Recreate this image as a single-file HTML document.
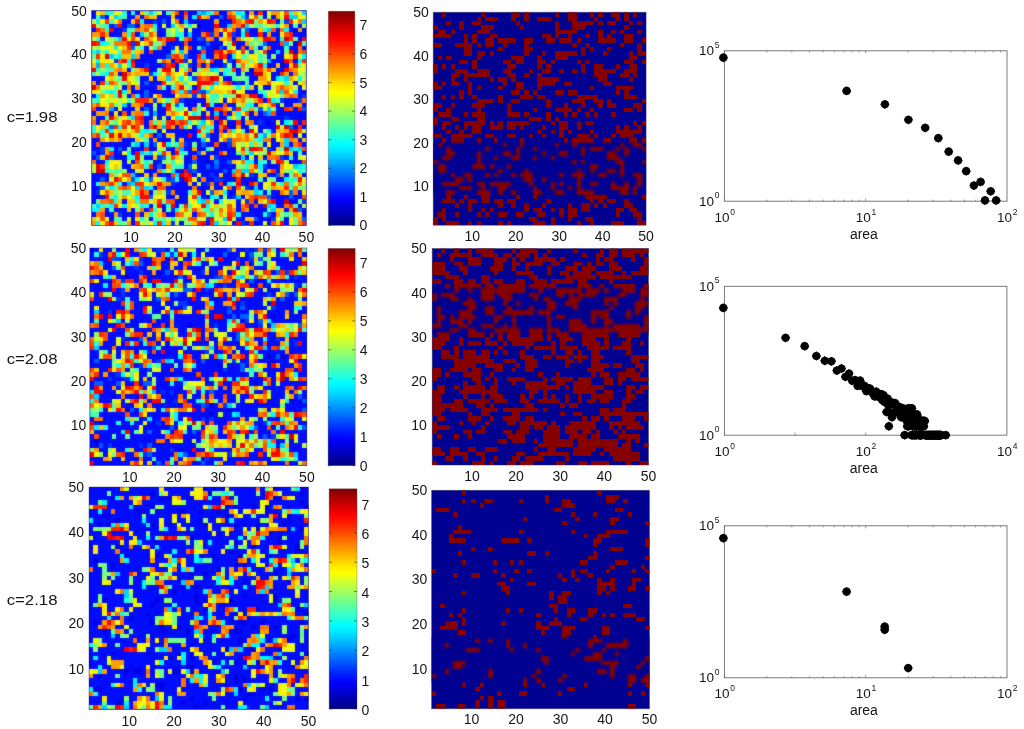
<!DOCTYPE html>
<html><head><meta charset="utf-8"><title>figure</title>
<style>html,body{margin:0;padding:0;background:#fff}svg{display:block}.hb{filter:blur(0.9px)}.bb{filter:blur(1.2px)}</style></head>
<body>
<svg width="1024" height="729" viewBox="0 0 1024 729" font-family="Liberation Sans, sans-serif" fill="#161616">
<defs><linearGradient id="jet" x1="0" y1="1" x2="0" y2="0">
<stop offset="0" stop-color="#000080"/>
<stop offset="0.03" stop-color="#00009f"/>
<stop offset="0.06" stop-color="#0000bf"/>
<stop offset="0.09" stop-color="#0000df"/>
<stop offset="0.12" stop-color="#0000ff"/>
<stop offset="0.16" stop-color="#0020ff"/>
<stop offset="0.19" stop-color="#0040ff"/>
<stop offset="0.22" stop-color="#0060ff"/>
<stop offset="0.25" stop-color="#0080ff"/>
<stop offset="0.28" stop-color="#009fff"/>
<stop offset="0.31" stop-color="#00bfff"/>
<stop offset="0.34" stop-color="#00dfff"/>
<stop offset="0.38" stop-color="#00ffff"/>
<stop offset="0.41" stop-color="#20ffdf"/>
<stop offset="0.44" stop-color="#40ffbf"/>
<stop offset="0.47" stop-color="#60ff9f"/>
<stop offset="0.5" stop-color="#80ff80"/>
<stop offset="0.53" stop-color="#9fff60"/>
<stop offset="0.56" stop-color="#bfff40"/>
<stop offset="0.59" stop-color="#dfff20"/>
<stop offset="0.62" stop-color="#ffff00"/>
<stop offset="0.66" stop-color="#ffdf00"/>
<stop offset="0.69" stop-color="#ffbf00"/>
<stop offset="0.72" stop-color="#ff9f00"/>
<stop offset="0.75" stop-color="#ff8000"/>
<stop offset="0.78" stop-color="#ff6000"/>
<stop offset="0.81" stop-color="#ff4000"/>
<stop offset="0.84" stop-color="#ff2000"/>
<stop offset="0.88" stop-color="#ff0000"/>
<stop offset="0.91" stop-color="#df0000"/>
<stop offset="0.94" stop-color="#bf0000"/>
<stop offset="0.97" stop-color="#9f0000"/>
<stop offset="1" stop-color="#800000"/>
</linearGradient></defs>
<clipPath id="cp1"><rect x="91.6" y="10.5" width="214.8" height="215.1"/></clipPath>
<g clip-path="url(#cp1)">
<g id="hm1" shape-rendering="crispEdges" transform="translate(91.6 10.5) scale(4.38367 4.38980)">
<rect x="-2" y="-2" width="53" height="53" fill="#000cff"/>
<path fill="#0000e4" d="M24 3h1v1h-1zM46 4h1v1h-1zM46 7h1v1h-1zM28 8h1v1h-1zM40 12h1v1h-1zM43 12h1v1h-1zM23 13h1v1h-1zM36 13h1v1h-1zM6 23h1v1h-1zM40 25h1v1h-1zM32 26h1v1h-1zM30 30h1v1h-1zM26 34h1v1h-1zM35 39h1v1h-1zM1 42h1v1h-1zM40 47h1v1h-1zM37 48h1v1h-1z"/>
<path fill="#0034ff" d="M35 1h1v1h-1zM14 2h1v1h-1zM44 2h1v1h-1zM7 4h1v1h-1zM27 5h1v1h-1zM32 5h1v1h-1zM25 6h1v1h-1zM9 7h1v1h-1zM18 8h1v1h-1zM36 9h1v1h-1zM5 11h1v1h-1zM21 11h1v1h-1zM31 11h1v1h-1zM12 12h1v1h-1zM16 12h1v1h-1zM22 12h1v1h-1zM30 12h1v1h-1zM13 14h1v1h-1zM23 15h1v1h-1zM33 16h1v1h-1zM25 18h1v1h-1zM23 19h1v1h-1zM48 19h1v1h-1zM14 20h1v1h-1zM20 20h1v1h-1zM43 20h1v1h-1zM47 20h1v1h-1zM32 22h1v1h-1zM44 24h1v1h-1zM38 25h1v1h-1zM21 30h1v1h-1zM31 30h1v1h-1zM2 31h1v1h-1zM40 31h1v1h-1zM2 32h1v1h-1zM15 33h1v1h-1zM28 33h1v1h-1zM43 33h1v1h-1zM39 35h1v1h-1zM22 36h1v1h-1zM27 37h1v1h-1zM36 37h1v1h-1zM17 38h1v1h-1zM28 38h2v1h-2zM18 39h1v1h-1zM26 39h1v1h-1zM35 40h1v1h-1zM1 41h1v1h-1zM17 41h1v1h-1zM32 42h1v1h-1zM35 43h1v1h-1zM48 43h1v1h-1zM18 45h1v1h-1zM6 46h1v1h-1zM26 47h1v1h-1zM41 47h1v1h-1zM18 48h1v1h-1zM34 48h1v1h-1z"/>
<path fill="#005cff" d="M2 1h1v1h-1zM29 1h1v1h-1zM16 2h1v1h-1zM5 3h1v1h-1zM8 3h2v1h-2zM35 4h1v1h-1zM24 6h1v1h-1zM26 7h1v1h-1zM39 7h1v1h-1zM9 8h1v1h-1zM25 8h1v1h-1zM29 8h1v1h-1zM17 10h1v1h-1zM21 10h1v1h-1zM12 16h1v1h-1zM12 18h1v1h-1zM22 18h1v1h-1zM24 18h1v1h-1zM12 19h1v1h-1zM19 21h1v1h-1zM12 22h1v1h-1zM38 22h1v1h-1zM48 22h1v1h-1zM39 23h1v1h-1zM4 26h1v1h-1zM45 26h1v1h-1zM15 28h1v1h-1zM26 28h1v1h-1zM31 29h1v1h-1zM14 30h1v1h-1zM25 30h1v1h-1zM6 31h1v1h-1zM0 32h1v1h-1zM24 32h1v1h-1zM1 33h1v1h-1zM4 33h1v1h-1zM16 33h1v1h-1zM23 34h1v1h-1zM31 34h1v1h-1zM15 35h1v1h-1zM22 35h1v1h-1zM26 35h1v1h-1zM28 35h1v1h-1zM23 36h1v1h-1zM30 36h1v1h-1zM42 37h1v1h-1zM2 38h1v1h-1zM9 38h1v1h-1zM13 38h1v1h-1zM18 38h1v1h-1zM2 40h1v1h-1zM27 41h1v1h-1zM45 41h1v1h-1zM13 42h1v1h-1zM40 42h1v1h-1zM45 42h1v1h-1zM47 45h1v1h-1zM40 46h1v1h-1zM37 47h1v1h-1zM48 47h1v1h-1z"/>
<path fill="#0083ff" d="M28 34h1v1h-1z"/>
<path fill="#00abff" d="M25 0h1v1h-1zM44 7h1v1h-1zM40 11h1v1h-1zM1 12h1v1h-1zM4 22h1v1h-1zM14 23h1v1h-1zM40 23h1v1h-1zM16 26h1v1h-1zM39 28h1v1h-1zM20 31h1v1h-1zM8 39h1v1h-1z"/>
<path fill="#00d3ff" d="M13 0h1v1h-1zM24 0h1v1h-1zM48 0h1v1h-1zM5 1h1v1h-1zM34 1h1v1h-1zM45 1h2v1h-2zM21 2h1v1h-1zM48 2h1v1h-1zM18 3h1v1h-1zM31 3h1v1h-1zM35 3h1v1h-1zM40 4h1v1h-1zM11 5h1v1h-1zM22 5h1v1h-1zM6 6h1v1h-1zM1 9h1v1h-1zM20 9h1v1h-1zM42 9h1v1h-1zM4 10h1v1h-1zM9 10h1v1h-1zM25 10h1v1h-1zM6 12h1v1h-1zM27 13h1v1h-1zM17 15h1v1h-1zM44 15h1v1h-1zM28 16h1v1h-1zM26 18h1v1h-1zM43 18h1v1h-1zM7 21h1v1h-1zM16 21h1v1h-1zM40 22h1v1h-1zM28 23h1v1h-1zM9 24h1v1h-1zM25 25h1v1h-1zM24 26h1v1h-1zM25 29h1v1h-1zM44 29h1v1h-1zM10 30h1v1h-1zM12 30h1v1h-1zM44 30h1v1h-1zM45 31h1v1h-1zM47 31h1v1h-1zM11 32h1v1h-1zM13 32h1v1h-1zM36 32h1v1h-1zM34 33h1v1h-1zM46 35h1v1h-1zM32 36h1v1h-1zM34 36h2v1h-2zM9 37h1v1h-1zM19 37h1v1h-1zM9 39h1v1h-1zM10 40h1v1h-1zM12 40h1v1h-1zM37 40h1v1h-1zM37 41h1v1h-1zM33 42h1v1h-1zM25 43h1v1h-1zM1 44h1v1h-1zM40 44h1v1h-1zM41 45h1v1h-1zM30 47h1v1h-1zM28 48h1v1h-1z"/>
<path fill="#00faff" d="M26 0h1v1h-1zM33 0h1v1h-1zM23 1h1v1h-1zM1 2h1v1h-1zM11 2h1v1h-1zM14 3h1v1h-1zM22 3h1v1h-1zM44 4h1v1h-1zM34 5h1v1h-1zM2 7h1v1h-1zM5 8h1v1h-1zM6 10h1v1h-1zM32 10h1v1h-1zM48 10h1v1h-1zM1 11h1v1h-1zM8 11h1v1h-1zM47 11h1v1h-1zM3 12h1v1h-1zM39 12h1v1h-1zM28 13h1v1h-1zM3 14h1v1h-1zM14 14h1v1h-1zM30 14h1v1h-1zM20 15h1v1h-1zM42 15h1v1h-1zM47 15h1v1h-1zM27 17h1v1h-1zM33 17h1v1h-1zM35 17h1v1h-1zM4 18h1v1h-1zM7 18h1v1h-1zM20 18h1v1h-1zM46 18h1v1h-1zM1 19h1v1h-1zM10 19h1v1h-1zM39 19h1v1h-1zM41 20h1v1h-1zM36 21h1v1h-1zM23 23h1v1h-1zM33 23h1v1h-1zM19 24h2v1h-2zM44 25h1v1h-1zM6 26h1v1h-1zM4 27h1v1h-1zM12 27h1v1h-1zM40 27h1v1h-1zM11 28h1v1h-1zM38 29h1v1h-1zM17 30h1v1h-1zM4 31h1v1h-1zM46 31h1v1h-1zM8 32h1v1h-1zM3 34h1v1h-1zM36 34h1v1h-1zM38 35h1v1h-1zM47 35h1v1h-1zM18 36h1v1h-1zM10 38h1v1h-1zM44 38h1v1h-1zM31 39h1v1h-1zM4 40h1v1h-1zM13 40h1v1h-1zM30 41h1v1h-1zM38 41h1v1h-1zM5 42h1v1h-1zM10 42h1v1h-1zM24 42h1v1h-1zM27 42h1v1h-1zM24 43h1v1h-1zM4 44h1v1h-1zM7 44h1v1h-1zM11 44h1v1h-1zM26 44h1v1h-1zM41 44h1v1h-1zM0 45h2v1h-2zM19 45h1v1h-1zM13 46h1v1h-1zM27 46h1v1h-1zM33 46h1v1h-1zM1 48h1v1h-1zM14 48h1v1h-1zM16 48h1v1h-1z"/>
<path fill="#23ffdc" d="M3 0h2v1h-2zM7 0h1v1h-1zM9 0h1v1h-1zM34 0h1v1h-1zM45 0h1v1h-1zM6 1h1v1h-1zM3 3h1v1h-1zM42 3h1v1h-1zM3 4h1v1h-1zM39 4h1v1h-1zM8 5h1v1h-1zM19 5h2v1h-2zM37 6h1v1h-1zM43 6h1v1h-1zM3 7h1v1h-1zM11 8h1v1h-1zM14 8h1v1h-1zM0 9h1v1h-1zM3 9h1v1h-1zM18 9h1v1h-1zM8 12h1v1h-1zM1 13h1v1h-1zM30 13h2v1h-2zM2 14h1v1h-1zM22 15h1v1h-1zM43 15h1v1h-1zM3 16h1v1h-1zM21 16h1v1h-1zM44 16h1v1h-1zM18 17h1v1h-1zM3 18h1v1h-1zM38 18h1v1h-1zM5 19h1v1h-1zM27 19h2v1h-2zM1 20h1v1h-1zM20 21h1v1h-1zM27 21h1v1h-1zM35 21h1v1h-1zM34 22h1v1h-1zM12 23h1v1h-1zM22 25h1v1h-1zM0 26h1v1h-1zM3 26h1v1h-1zM21 26h1v1h-1zM26 26h1v1h-1zM0 27h1v1h-1zM2 27h1v1h-1zM11 27h1v1h-1zM26 27h1v1h-1zM32 27h1v1h-1zM24 28h1v1h-1zM38 28h1v1h-1zM9 30h1v1h-1zM19 30h1v1h-1zM36 30h1v1h-1zM26 31h1v1h-1zM12 32h1v1h-1zM15 32h1v1h-1zM20 32h1v1h-1zM8 33h2v1h-2zM45 33h1v1h-1zM12 34h1v1h-1zM18 34h1v1h-1zM35 34h1v1h-1zM38 34h1v1h-1zM12 35h1v1h-1zM48 35h1v1h-1zM3 36h1v1h-1zM16 36h1v1h-1zM47 36h1v1h-1zM12 38h1v1h-1zM16 38h1v1h-1zM19 38h1v1h-1zM46 38h1v1h-1zM1 39h1v1h-1zM6 39h1v1h-1zM43 39h1v1h-1zM45 39h1v1h-1zM28 42h1v1h-1zM5 43h1v1h-1zM10 43h1v1h-1zM29 43h1v1h-1zM2 44h1v1h-1zM12 44h1v1h-1zM17 44h1v1h-1zM14 45h1v1h-1zM26 45h1v1h-1zM39 46h1v1h-1zM11 47h1v1h-1zM18 47h1v1h-1z"/>
<path fill="#4bffb4" d="M17 0h1v1h-1zM27 0h1v1h-1zM1 1h1v1h-1zM7 1h1v1h-1zM4 2h1v1h-1zM2 3h1v1h-1zM38 3h1v1h-1zM46 3h1v1h-1zM8 4h2v1h-2zM14 4h1v1h-1zM19 4h1v1h-1zM34 4h1v1h-1zM1 6h1v1h-1zM20 6h1v1h-1zM36 7h1v1h-1zM38 7h1v1h-1zM48 7h1v1h-1zM24 8h1v1h-1zM37 8h1v1h-1zM44 8h1v1h-1zM6 9h1v1h-1zM5 10h1v1h-1zM34 10h1v1h-1zM38 10h1v1h-1zM38 11h1v1h-1zM20 12h1v1h-1zM3 13h2v1h-2zM21 13h1v1h-1zM0 14h1v1h-1zM32 14h1v1h-1zM6 15h1v1h-1zM32 15h1v1h-1zM35 15h1v1h-1zM35 16h1v1h-1zM5 17h1v1h-1zM16 17h1v1h-1zM22 17h1v1h-1zM5 18h1v1h-1zM30 19h1v1h-1zM0 20h1v1h-1zM8 20h1v1h-1zM17 20h1v1h-1zM27 20h1v1h-1zM42 20h1v1h-1zM19 22h2v1h-2zM24 22h1v1h-1zM35 22h1v1h-1zM3 24h1v1h-1zM8 24h1v1h-1zM31 24h1v1h-1zM33 24h1v1h-1zM5 25h1v1h-1zM14 25h1v1h-1zM16 25h1v1h-1zM24 25h1v1h-1zM45 25h1v1h-1zM27 26h1v1h-1zM13 27h1v1h-1zM34 27h1v1h-1zM2 28h1v1h-1zM12 29h1v1h-1zM37 29h1v1h-1zM35 31h1v1h-1zM43 31h1v1h-1zM21 32h1v1h-1zM47 32h1v1h-1zM39 34h1v1h-1zM3 35h1v1h-1zM18 35h3v1h-3zM35 35h1v1h-1zM5 36h2v1h-2zM38 36h1v1h-1zM45 36h1v1h-1zM48 36h1v1h-1zM38 38h1v1h-1zM45 38h1v1h-1zM32 39h1v1h-1zM5 40h1v1h-1zM45 40h1v1h-1zM7 41h2v1h-2zM22 41h1v1h-1zM40 41h1v1h-1zM4 42h1v1h-1zM0 44h1v1h-1zM3 44h1v1h-1zM22 44h1v1h-1zM46 44h1v1h-1zM4 45h1v1h-1zM40 45h1v1h-1zM44 46h1v1h-1zM5 47h2v1h-2zM14 47h1v1h-1zM16 47h1v1h-1zM43 47h1v1h-1zM6 48h1v1h-1z"/>
<path fill="#72ff8d" d="M12 0h1v1h-1zM14 0h1v1h-1zM38 1h1v1h-1zM37 2h1v1h-1zM43 2h1v1h-1zM37 3h1v1h-1zM17 5h1v1h-1zM5 6h1v1h-1zM46 6h1v1h-1zM14 7h2v1h-2zM31 7h1v1h-1zM45 7h1v1h-1zM39 8h1v1h-1zM2 9h1v1h-1zM9 9h1v1h-1zM37 9h1v1h-1zM44 9h1v1h-1zM0 10h1v1h-1zM35 10h1v1h-1zM39 10h1v1h-1zM36 11h1v1h-1zM33 12h1v1h-1zM47 12h1v1h-1zM9 13h1v1h-1zM24 13h1v1h-1zM15 14h1v1h-1zM31 14h1v1h-1zM34 14h1v1h-1zM10 15h1v1h-1zM33 15h2v1h-2zM7 16h1v1h-1zM25 17h1v1h-1zM2 18h1v1h-1zM39 18h1v1h-1zM31 19h2v1h-2zM43 19h1v1h-1zM28 20h1v1h-1zM5 21h1v1h-1zM14 22h1v1h-1zM37 22h1v1h-1zM24 23h1v1h-1zM36 26h1v1h-1zM14 27h1v1h-1zM25 27h1v1h-1zM18 30h1v1h-1zM23 30h1v1h-1zM38 30h1v1h-1zM8 31h1v1h-1zM33 32h1v1h-1zM35 32h1v1h-1zM13 34h1v1h-1zM16 34h1v1h-1zM34 35h1v1h-1zM4 36h1v1h-1zM5 37h1v1h-1zM45 37h1v1h-1zM41 38h1v1h-1zM48 40h1v1h-1zM5 41h1v1h-1zM14 41h1v1h-1zM9 42h1v1h-1zM1 43h1v1h-1zM16 43h1v1h-1zM47 43h1v1h-1zM14 44h1v1h-1zM20 44h1v1h-1zM10 45h1v1h-1zM17 45h1v1h-1zM25 45h1v1h-1zM45 46h1v1h-1zM15 47h1v1h-1zM21 47h1v1h-1zM46 47h1v1h-1zM7 48h1v1h-1zM22 48h1v1h-1zM30 48h1v1h-1zM46 48h1v1h-1z"/>
<path fill="#9aff65" d="M33 1h1v1h-1zM1 3h1v1h-1zM21 3h1v1h-1zM39 3h1v1h-1zM41 3h1v1h-1zM17 4h1v1h-1zM12 5h1v1h-1zM4 6h1v1h-1zM34 6h1v1h-1zM4 7h1v1h-1zM1 8h1v1h-1zM10 8h1v1h-1zM31 8h1v1h-1zM35 9h1v1h-1zM41 10h1v1h-1zM15 11h1v1h-1zM21 12h1v1h-1zM31 12h1v1h-1zM35 12h1v1h-1zM2 13h1v1h-1zM15 13h1v1h-1zM35 13h1v1h-1zM23 14h1v1h-1zM26 14h1v1h-1zM28 14h1v1h-1zM48 14h1v1h-1zM5 15h1v1h-1zM6 16h1v1h-1zM18 16h1v1h-1zM32 17h1v1h-1zM7 19h1v1h-1zM6 20h1v1h-1zM9 20h1v1h-1zM35 20h2v1h-2zM18 21h1v1h-1zM24 21h1v1h-1zM33 21h1v1h-1zM41 22h1v1h-1zM6 24h1v1h-1zM35 24h1v1h-1zM4 25h1v1h-1zM39 27h1v1h-1zM3 28h1v1h-1zM10 28h1v1h-1zM40 28h1v1h-1zM18 29h1v1h-1zM34 30h1v1h-1zM16 31h1v1h-1zM39 31h1v1h-1zM38 32h2v1h-2zM11 33h1v1h-1zM17 33h1v1h-1zM20 33h1v1h-1zM11 34h1v1h-1zM17 34h1v1h-1zM41 34h1v1h-1zM33 35h1v1h-1zM7 36h1v1h-1zM44 36h1v1h-1zM40 38h1v1h-1zM42 39h1v1h-1zM3 40h1v1h-1zM34 40h1v1h-1zM40 40h1v1h-1zM47 40h1v1h-1zM16 41h1v1h-1zM30 42h1v1h-1zM27 43h1v1h-1zM29 44h1v1h-1zM22 45h1v1h-1zM28 45h1v1h-1zM14 46h1v1h-1zM26 46h1v1h-1zM43 46h1v1h-1zM12 47h1v1h-1zM20 47h1v1h-1zM12 48h1v1h-1zM21 48h1v1h-1z"/>
<path fill="#c2ff3d" d="M40 1h1v1h-1zM43 1h1v1h-1zM0 2h1v1h-1zM18 2h1v1h-1zM19 3h1v1h-1zM23 3h1v1h-1zM36 3h1v1h-1zM40 3h1v1h-1zM48 3h1v1h-1zM13 4h1v1h-1zM18 5h1v1h-1zM0 6h1v1h-1zM35 6h1v1h-1zM37 7h1v1h-1zM0 8h1v1h-1zM13 8h1v1h-1zM38 9h1v1h-1zM47 10h1v1h-1zM26 11h1v1h-1zM39 11h1v1h-1zM18 13h1v1h-1zM1 14h1v1h-1zM47 14h1v1h-1zM9 15h1v1h-1zM19 15h1v1h-1zM29 15h1v1h-1zM48 15h1v1h-1zM10 16h1v1h-1zM17 16h1v1h-1zM45 16h1v1h-1zM2 17h2v1h-2zM6 17h1v1h-1zM21 17h1v1h-1zM38 17h1v1h-1zM41 17h1v1h-1zM46 17h1v1h-1zM40 18h1v1h-1zM29 19h1v1h-1zM41 19h1v1h-1zM3 20h2v1h-2zM16 20h1v1h-1zM6 21h1v1h-1zM14 21h1v1h-1zM43 21h1v1h-1zM18 22h1v1h-1zM39 22h1v1h-1zM22 23h1v1h-1zM14 24h1v1h-1zM16 24h1v1h-1zM23 25h1v1h-1zM8 26h1v1h-1zM11 26h1v1h-1zM43 26h1v1h-1zM1 27h1v1h-1zM48 27h1v1h-1zM36 28h1v1h-1zM11 29h1v1h-1zM33 30h1v1h-1zM15 31h1v1h-1zM27 31h1v1h-1zM36 33h1v1h-1zM47 33h1v1h-1zM8 34h1v1h-1zM20 34h1v1h-1zM44 34h1v1h-1zM0 35h1v1h-1zM6 35h1v1h-1zM23 35h1v1h-1zM0 36h1v1h-1zM10 36h1v1h-1zM17 36h1v1h-1zM37 36h1v1h-1zM24 37h1v1h-1zM35 37h1v1h-1zM4 38h1v1h-1zM15 38h1v1h-1zM24 39h1v1h-1zM46 39h1v1h-1zM48 39h1v1h-1zM6 41h1v1h-1zM6 42h1v1h-1zM13 43h1v1h-1zM22 43h1v1h-1zM31 43h1v1h-1zM39 43h1v1h-1zM10 44h1v1h-1zM27 44h1v1h-1zM30 44h1v1h-1zM48 44h1v1h-1zM15 45h1v1h-1zM21 46h1v1h-1zM28 46h1v1h-1zM30 46h1v1h-1zM1 47h1v1h-1zM17 47h1v1h-1zM19 47h1v1h-1zM24 47h1v1h-1zM28 47h2v1h-2zM32 47h1v1h-1zM11 48h1v1h-1zM19 48h1v1h-1zM29 48h1v1h-1z"/>
<path fill="#e9ff16" d="M5 0h2v1h-2zM15 0h1v1h-1zM40 0h1v1h-1zM43 0h1v1h-1zM47 0h1v1h-1zM36 1h1v1h-1zM48 1h1v1h-1zM46 2h1v1h-1zM16 3h1v1h-1zM43 3h1v1h-1zM18 4h1v1h-1zM22 4h1v1h-1zM30 5h1v1h-1zM3 6h1v1h-1zM8 6h1v1h-1zM14 6h1v1h-1zM11 7h1v1h-1zM30 7h1v1h-1zM2 8h2v1h-2zM6 8h1v1h-1zM33 9h1v1h-1zM0 11h1v1h-1zM4 11h1v1h-1zM30 11h1v1h-1zM7 12h1v1h-1zM47 13h2v1h-2zM20 14h1v1h-1zM27 14h1v1h-1zM40 14h1v1h-1zM3 15h1v1h-1zM21 15h1v1h-1zM40 15h1v1h-1zM9 16h1v1h-1zM23 16h1v1h-1zM37 16h1v1h-1zM41 16h2v1h-2zM29 17h2v1h-2zM48 17h1v1h-1zM33 18h1v1h-1zM41 18h1v1h-1zM45 18h1v1h-1zM3 19h1v1h-1zM42 19h1v1h-1zM2 20h1v1h-1zM7 20h1v1h-1zM39 21h1v1h-1zM6 22h1v1h-1zM21 22h1v1h-1zM20 23h1v1h-1zM21 24h1v1h-1zM26 25h1v1h-1zM42 25h1v1h-1zM22 26h1v1h-1zM37 26h1v1h-1zM8 27h1v1h-1zM16 27h1v1h-1zM33 27h1v1h-1zM37 27h1v1h-1zM30 28h1v1h-1zM32 28h1v1h-1zM42 28h1v1h-1zM47 28h1v1h-1zM3 29h1v1h-1zM26 29h1v1h-1zM29 29h1v1h-1zM42 29h1v1h-1zM33 31h1v1h-1zM7 32h1v1h-1zM37 32h1v1h-1zM42 32h2v1h-2zM48 33h1v1h-1zM5 34h1v1h-1zM19 34h1v1h-1zM4 35h1v1h-1zM44 35h2v1h-2zM46 36h1v1h-1zM6 37h1v1h-1zM7 38h1v1h-1zM11 38h1v1h-1zM23 38h1v1h-1zM48 38h1v1h-1zM12 39h1v1h-1zM39 39h1v1h-1zM9 40h1v1h-1zM30 40h1v1h-1zM39 40h1v1h-1zM26 41h1v1h-1zM8 42h1v1h-1zM15 42h1v1h-1zM22 42h1v1h-1zM30 43h1v1h-1zM9 44h1v1h-1zM23 44h1v1h-1zM20 45h1v1h-1zM3 47h1v1h-1zM8 47h1v1h-1zM25 47h1v1h-1zM42 47h1v1h-1zM31 48h1v1h-1zM39 48h1v1h-1z"/>
<path fill="#ffed00" d="M1 0h1v1h-1zM4 1h1v1h-1zM47 1h1v1h-1zM2 2h1v1h-1zM5 2h1v1h-1zM39 2h1v1h-1zM20 4h1v1h-1zM43 5h1v1h-1zM10 6h1v1h-1zM36 6h1v1h-1zM4 8h1v1h-1zM19 8h1v1h-1zM32 8h1v1h-1zM4 9h2v1h-2zM19 9h1v1h-1zM2 10h1v1h-1zM33 10h1v1h-1zM36 10h2v1h-2zM44 10h1v1h-1zM2 11h2v1h-2zM22 11h1v1h-1zM37 11h1v1h-1zM5 12h1v1h-1zM36 12h1v1h-1zM48 12h1v1h-1zM20 13h1v1h-1zM16 14h1v1h-1zM19 14h1v1h-1zM25 14h1v1h-1zM8 15h1v1h-1zM46 15h1v1h-1zM22 16h1v1h-1zM43 16h1v1h-1zM47 16h1v1h-1zM4 17h1v1h-1zM26 17h1v1h-1zM28 17h1v1h-1zM31 17h1v1h-1zM34 17h1v1h-1zM0 18h2v1h-2zM30 18h1v1h-1zM34 18h1v1h-1zM14 19h1v1h-1zM19 19h1v1h-1zM26 19h1v1h-1zM40 19h1v1h-1zM5 20h1v1h-1zM29 20h1v1h-1zM31 20h1v1h-1zM2 21h2v1h-2zM25 22h1v1h-1zM5 23h1v1h-1zM34 23h1v1h-1zM7 24h1v1h-1zM18 24h1v1h-1zM32 24h1v1h-1zM6 25h1v1h-1zM1 26h1v1h-1zM5 27h1v1h-1zM9 28h1v1h-1zM15 30h1v1h-1zM35 30h1v1h-1zM40 30h1v1h-1zM14 32h1v1h-1zM4 34h1v1h-1zM6 34h1v1h-1zM33 34h1v1h-1zM11 36h1v1h-1zM14 38h1v1h-1zM40 39h1v1h-1zM2 41h1v1h-1zM9 41h1v1h-1zM48 41h1v1h-1zM14 42h1v1h-1zM16 42h1v1h-1zM23 43h1v1h-1zM32 43h1v1h-1zM34 43h1v1h-1zM6 44h1v1h-1zM24 44h1v1h-1zM32 44h1v1h-1zM30 45h1v1h-1zM22 46h1v1h-1zM10 47h1v1h-1zM45 47h1v1h-1zM2 48h1v1h-1zM13 48h1v1h-1zM45 48h1v1h-1z"/>
<path fill="#ffc500" d="M2 0h1v1h-1zM11 0h1v1h-1zM18 0h1v1h-1zM32 0h1v1h-1zM46 0h1v1h-1zM13 1h2v1h-2zM18 1h1v1h-1zM25 1h1v1h-1zM9 2h1v1h-1zM34 2h1v1h-1zM29 4h1v1h-1zM31 4h1v1h-1zM38 4h1v1h-1zM14 5h1v1h-1zM13 6h1v1h-1zM29 6h2v1h-2zM38 6h1v1h-1zM12 7h1v1h-1zM7 8h1v1h-1zM21 8h1v1h-1zM10 9h1v1h-1zM21 9h1v1h-1zM30 9h1v1h-1zM7 10h2v1h-2zM45 10h1v1h-1zM34 11h2v1h-2zM0 12h1v1h-1zM42 12h1v1h-1zM45 12h1v1h-1zM7 13h1v1h-1zM10 13h1v1h-1zM25 13h2v1h-2zM29 13h1v1h-1zM39 13h1v1h-1zM41 13h1v1h-1zM5 14h1v1h-1zM9 14h1v1h-1zM11 14h2v1h-2zM18 14h1v1h-1zM24 14h1v1h-1zM39 14h1v1h-1zM4 15h1v1h-1zM13 15h1v1h-1zM15 15h2v1h-2zM20 16h1v1h-1zM29 16h1v1h-1zM38 16h2v1h-2zM48 16h1v1h-1zM36 17h1v1h-1zM45 17h1v1h-1zM8 18h1v1h-1zM27 18h3v1h-3zM4 19h1v1h-1zM22 19h1v1h-1zM24 19h1v1h-1zM15 20h1v1h-1zM18 20h1v1h-1zM26 20h1v1h-1zM33 20h1v1h-1zM34 21h1v1h-1zM38 21h1v1h-1zM40 21h1v1h-1zM3 22h1v1h-1zM10 22h1v1h-1zM31 22h1v1h-1zM17 23h1v1h-1zM19 23h1v1h-1zM26 23h1v1h-1zM32 23h1v1h-1zM9 25h1v1h-1zM15 25h1v1h-1zM30 25h1v1h-1zM2 26h1v1h-1zM6 27h2v1h-2zM9 27h1v1h-1zM42 27h2v1h-2zM5 28h1v1h-1zM7 28h1v1h-1zM12 28h1v1h-1zM17 28h2v1h-2zM25 28h1v1h-1zM31 28h1v1h-1zM34 28h1v1h-1zM5 29h1v1h-1zM10 29h1v1h-1zM20 29h1v1h-1zM36 29h1v1h-1zM43 29h1v1h-1zM48 29h1v1h-1zM37 30h1v1h-1zM42 31h1v1h-1zM17 32h1v1h-1zM25 32h1v1h-1zM41 32h1v1h-1zM45 32h1v1h-1zM2 33h1v1h-1zM14 33h1v1h-1zM19 33h1v1h-1zM27 33h1v1h-1zM38 33h1v1h-1zM32 34h1v1h-1zM5 35h1v1h-1zM9 35h1v1h-1zM36 35h1v1h-1zM43 36h1v1h-1zM12 37h1v1h-1zM29 37h1v1h-1zM38 37h2v1h-2zM47 37h1v1h-1zM5 39h1v1h-1zM13 39h1v1h-1zM22 39h1v1h-1zM27 40h1v1h-1zM42 40h2v1h-2zM4 41h1v1h-1zM15 41h1v1h-1zM23 41h1v1h-1zM29 41h1v1h-1zM33 41h1v1h-1zM36 41h1v1h-1zM44 41h1v1h-1zM19 42h1v1h-1zM35 42h1v1h-1zM6 43h1v1h-1zM8 43h2v1h-2zM14 43h1v1h-1zM38 43h1v1h-1zM8 44h1v1h-1zM28 44h1v1h-1zM8 45h1v1h-1zM24 45h1v1h-1zM42 45h2v1h-2zM12 46h1v1h-1zM15 46h1v1h-1zM47 46h1v1h-1zM0 47h1v1h-1zM35 47h2v1h-2zM5 48h1v1h-1zM17 48h1v1h-1zM23 48h1v1h-1zM42 48h1v1h-1z"/>
<path fill="#ff9e00" d="M36 0h1v1h-1zM41 0h2v1h-2zM10 1h1v1h-1zM26 1h1v1h-1zM42 1h1v1h-1zM28 2h1v1h-1zM38 2h1v1h-1zM11 3h1v1h-1zM20 3h1v1h-1zM32 3h1v1h-1zM44 3h1v1h-1zM11 4h1v1h-1zM47 4h1v1h-1zM0 5h2v1h-2zM3 5h1v1h-1zM7 5h1v1h-1zM40 5h1v1h-1zM26 6h1v1h-1zM35 7h1v1h-1zM36 8h1v1h-1zM11 9h1v1h-1zM10 10h1v1h-1zM20 10h1v1h-1zM17 11h1v1h-1zM2 12h1v1h-1zM4 12h1v1h-1zM37 12h1v1h-1zM5 13h1v1h-1zM34 13h1v1h-1zM46 13h1v1h-1zM10 14h1v1h-1zM44 14h1v1h-1zM18 15h1v1h-1zM38 15h2v1h-2zM45 15h1v1h-1zM0 16h1v1h-1zM5 16h1v1h-1zM8 16h1v1h-1zM19 16h1v1h-1zM10 17h1v1h-1zM19 17h1v1h-1zM42 17h1v1h-1zM44 17h1v1h-1zM19 18h1v1h-1zM31 18h1v1h-1zM2 19h1v1h-1zM20 19h2v1h-2zM35 19h1v1h-1zM44 19h1v1h-1zM13 20h1v1h-1zM37 20h1v1h-1zM0 21h1v1h-1zM9 21h2v1h-2zM46 21h2v1h-2zM36 22h1v1h-1zM1 23h2v1h-2zM9 23h1v1h-1zM37 23h1v1h-1zM0 24h1v1h-1zM5 24h1v1h-1zM2 25h1v1h-1zM27 25h1v1h-1zM35 25h1v1h-1zM15 26h1v1h-1zM18 26h1v1h-1zM25 26h1v1h-1zM33 26h1v1h-1zM44 27h1v1h-1zM29 28h1v1h-1zM33 28h1v1h-1zM2 29h1v1h-1zM4 29h1v1h-1zM14 29h1v1h-1zM34 29h1v1h-1zM46 29h1v1h-1zM43 30h1v1h-1zM3 31h1v1h-1zM23 31h1v1h-1zM3 32h1v1h-1zM30 32h1v1h-1zM34 32h1v1h-1zM10 35h1v1h-1zM17 35h1v1h-1zM43 35h1v1h-1zM40 36h1v1h-1zM4 37h1v1h-1zM14 37h1v1h-1zM33 37h1v1h-1zM43 37h1v1h-1zM8 38h1v1h-1zM2 39h1v1h-1zM14 39h1v1h-1zM16 39h2v1h-2zM41 40h1v1h-1zM10 41h1v1h-1zM28 41h1v1h-1zM34 41h2v1h-2zM7 42h1v1h-1zM2 45h1v1h-1zM27 45h1v1h-1zM32 45h1v1h-1zM35 45h1v1h-1zM45 45h1v1h-1zM5 46h1v1h-1zM29 46h1v1h-1zM42 46h1v1h-1zM46 46h1v1h-1zM47 47h1v1h-1zM0 48h1v1h-1zM8 48h1v1h-1z"/>
<path fill="#ff7600" d="M28 0h1v1h-1zM31 0h1v1h-1zM12 1h1v1h-1zM21 1h1v1h-1zM6 2h1v1h-1zM19 2h1v1h-1zM33 2h1v1h-1zM47 2h1v1h-1zM12 3h2v1h-2zM33 3h1v1h-1zM2 4h1v1h-1zM10 4h1v1h-1zM28 4h1v1h-1zM43 4h1v1h-1zM25 5h1v1h-1zM28 5h1v1h-1zM16 6h1v1h-1zM21 6h1v1h-1zM27 6h1v1h-1zM31 6h1v1h-1zM33 6h1v1h-1zM5 7h3v1h-3zM16 7h1v1h-1zM15 8h1v1h-1zM47 8h1v1h-1zM7 9h2v1h-2zM32 9h1v1h-1zM47 9h1v1h-1zM28 10h1v1h-1zM24 11h2v1h-2zM26 12h1v1h-1zM34 12h1v1h-1zM6 13h1v1h-1zM11 13h1v1h-1zM45 13h1v1h-1zM8 14h1v1h-1zM46 14h1v1h-1zM25 15h1v1h-1zM1 17h1v1h-1zM8 17h1v1h-1zM15 17h1v1h-1zM42 18h1v1h-1zM15 19h1v1h-1zM34 19h1v1h-1zM46 19h1v1h-1zM34 20h1v1h-1zM48 20h1v1h-1zM4 21h1v1h-1zM23 22h1v1h-1zM30 22h1v1h-1zM3 23h1v1h-1zM10 23h2v1h-2zM18 23h1v1h-1zM0 25h1v1h-1zM13 25h1v1h-1zM19 25h1v1h-1zM36 25h1v1h-1zM29 26h1v1h-1zM27 27h1v1h-1zM31 27h1v1h-1zM0 28h1v1h-1zM8 28h1v1h-1zM35 28h1v1h-1zM41 28h1v1h-1zM6 29h1v1h-1zM30 29h1v1h-1zM32 29h2v1h-2zM35 29h1v1h-1zM39 29h2v1h-2zM45 29h1v1h-1zM20 30h1v1h-1zM32 30h1v1h-1zM46 30h1v1h-1zM19 31h1v1h-1zM44 32h1v1h-1zM40 33h2v1h-2zM0 34h1v1h-1zM34 34h1v1h-1zM11 35h1v1h-1zM15 36h1v1h-1zM33 36h1v1h-1zM36 36h1v1h-1zM46 37h1v1h-1zM25 38h1v1h-1zM3 39h1v1h-1zM27 39h1v1h-1zM37 39h1v1h-1zM44 39h1v1h-1zM47 39h1v1h-1zM6 40h1v1h-1zM8 40h1v1h-1zM23 40h1v1h-1zM46 40h1v1h-1zM12 41h1v1h-1zM18 41h1v1h-1zM43 41h1v1h-1zM46 41h1v1h-1zM2 43h2v1h-2zM11 43h2v1h-2zM26 43h1v1h-1zM34 44h1v1h-1zM44 44h1v1h-1zM11 45h1v1h-1zM21 45h1v1h-1zM29 45h1v1h-1zM1 46h1v1h-1zM20 46h1v1h-1zM25 46h1v1h-1zM47 48h1v1h-1z"/>
<path fill="#ff4e00" d="M19 0h1v1h-1zM44 0h1v1h-1zM32 1h1v1h-1zM37 1h1v1h-1zM12 4h1v1h-1zM32 4h1v1h-1zM41 4h1v1h-1zM9 5h1v1h-1zM13 5h1v1h-1zM44 5h1v1h-1zM9 6h1v1h-1zM12 6h1v1h-1zM41 6h1v1h-1zM21 7h1v1h-1zM43 7h1v1h-1zM34 8h1v1h-1zM40 8h1v1h-1zM25 9h1v1h-1zM48 9h1v1h-1zM18 10h1v1h-1zM6 11h1v1h-1zM16 11h1v1h-1zM33 11h1v1h-1zM45 11h1v1h-1zM24 12h1v1h-1zM22 13h1v1h-1zM37 13h2v1h-2zM40 13h1v1h-1zM4 14h1v1h-1zM17 14h1v1h-1zM21 14h1v1h-1zM26 15h1v1h-1zM4 16h1v1h-1zM30 16h1v1h-1zM40 16h1v1h-1zM43 17h1v1h-1zM21 18h1v1h-1zM44 18h1v1h-1zM9 19h1v1h-1zM45 19h1v1h-1zM19 20h1v1h-1zM32 20h1v1h-1zM1 21h1v1h-1zM11 21h1v1h-1zM30 21h1v1h-1zM0 22h1v1h-1zM45 22h1v1h-1zM7 23h1v1h-1zM35 23h1v1h-1zM41 23h1v1h-1zM3 25h1v1h-1zM7 25h1v1h-1zM10 25h1v1h-1zM21 25h1v1h-1zM10 26h1v1h-1zM13 26h1v1h-1zM20 26h1v1h-1zM10 27h1v1h-1zM29 27h1v1h-1zM47 27h1v1h-1zM13 28h1v1h-1zM43 28h1v1h-1zM1 30h1v1h-1zM28 30h1v1h-1zM48 31h1v1h-1zM18 33h1v1h-1zM23 33h1v1h-1zM42 33h1v1h-1zM10 34h1v1h-1zM48 34h1v1h-1zM7 37h2v1h-2zM18 37h1v1h-1zM32 37h1v1h-1zM6 38h1v1h-1zM7 40h1v1h-1zM11 40h1v1h-1zM15 40h2v1h-2zM31 40h1v1h-1zM33 40h1v1h-1zM3 41h1v1h-1zM36 42h1v1h-1zM38 42h2v1h-2zM48 42h1v1h-1zM4 43h1v1h-1zM17 43h2v1h-2zM36 43h1v1h-1zM40 43h1v1h-1zM31 44h1v1h-1zM37 44h1v1h-1zM23 45h1v1h-1zM31 45h1v1h-1zM34 45h1v1h-1zM2 46h1v1h-1zM10 46h1v1h-1zM16 46h1v1h-1zM19 46h1v1h-1zM24 46h1v1h-1zM32 46h1v1h-1zM2 47h1v1h-1zM22 47h2v1h-2zM3 48h1v1h-1zM41 48h1v1h-1z"/>
<path fill="#ff2700" d="M21 0h1v1h-1zM38 0h1v1h-1zM31 1h1v1h-1zM3 2h1v1h-1zM32 2h1v1h-1zM35 2h1v1h-1zM41 2h1v1h-1zM45 2h1v1h-1zM1 4h1v1h-1zM30 4h1v1h-1zM2 5h1v1h-1zM31 5h1v1h-1zM38 5h1v1h-1zM45 5h1v1h-1zM15 6h1v1h-1zM22 6h1v1h-1zM45 6h1v1h-1zM1 7h1v1h-1zM13 7h1v1h-1zM8 8h1v1h-1zM22 8h1v1h-1zM13 9h1v1h-1zM28 9h1v1h-1zM31 9h1v1h-1zM34 9h1v1h-1zM39 9h1v1h-1zM1 10h1v1h-1zM19 10h1v1h-1zM24 10h1v1h-1zM30 10h1v1h-1zM19 11h1v1h-1zM27 11h1v1h-1zM48 11h1v1h-1zM9 12h1v1h-1zM17 12h1v1h-1zM32 13h1v1h-1zM43 14h1v1h-1zM24 15h1v1h-1zM2 16h1v1h-1zM16 16h1v1h-1zM27 16h1v1h-1zM18 18h1v1h-1zM25 19h1v1h-1zM10 20h3v1h-3zM38 20h1v1h-1zM40 20h1v1h-1zM41 21h1v1h-1zM17 22h1v1h-1zM28 22h2v1h-2zM33 22h1v1h-1zM44 22h1v1h-1zM47 22h1v1h-1zM30 23h1v1h-1zM10 24h1v1h-1zM28 24h1v1h-1zM8 25h1v1h-1zM11 25h1v1h-1zM17 25h1v1h-1zM20 25h1v1h-1zM33 25h1v1h-1zM48 25h1v1h-1zM5 26h1v1h-1zM7 26h1v1h-1zM17 26h1v1h-1zM47 26h1v1h-1zM3 27h1v1h-1zM1 28h1v1h-1zM45 28h1v1h-1zM47 30h1v1h-1zM12 31h1v1h-1zM34 31h1v1h-1zM38 31h1v1h-1zM4 32h1v1h-1zM16 32h1v1h-1zM29 32h1v1h-1zM43 34h1v1h-1zM2 35h1v1h-1zM13 35h1v1h-1zM37 35h1v1h-1zM41 36h1v1h-1zM21 37h1v1h-1zM22 38h1v1h-1zM33 38h1v1h-1zM4 39h1v1h-1zM10 39h2v1h-2zM29 39h1v1h-1zM41 39h1v1h-1zM44 40h1v1h-1zM23 42h1v1h-1zM37 42h1v1h-1zM15 43h1v1h-1zM5 44h1v1h-1zM21 44h1v1h-1zM35 44h1v1h-1zM45 44h1v1h-1zM13 45h1v1h-1zM31 46h1v1h-1zM10 48h1v1h-1zM15 48h1v1h-1zM24 48h1v1h-1zM27 48h1v1h-1zM36 48h1v1h-1zM48 48h1v1h-1z"/>
<path fill="#fe0000" d="M24 1h1v1h-1zM44 1h1v1h-1zM10 2h1v1h-1zM36 2h1v1h-1zM40 2h1v1h-1zM0 3h1v1h-1zM6 3h1v1h-1zM28 3h1v1h-1zM34 3h1v1h-1zM4 4h1v1h-1zM26 5h1v1h-1zM35 5h1v1h-1zM7 6h1v1h-1zM17 6h2v1h-2zM39 6h2v1h-2zM48 6h1v1h-1zM0 7h1v1h-1zM8 7h1v1h-1zM29 9h1v1h-1zM45 9h1v1h-1zM29 10h1v1h-1zM46 10h1v1h-1zM7 11h1v1h-1zM9 11h1v1h-1zM44 11h1v1h-1zM18 12h1v1h-1zM38 12h1v1h-1zM46 12h1v1h-1zM0 13h1v1h-1zM12 13h1v1h-1zM16 13h2v1h-2zM44 13h1v1h-1zM7 15h1v1h-1zM28 15h1v1h-1zM24 16h3v1h-3zM31 16h1v1h-1zM20 17h1v1h-1zM24 17h1v1h-1zM23 18h1v1h-1zM32 18h1v1h-1zM6 19h1v1h-1zM36 19h2v1h-2zM17 21h1v1h-1zM26 21h1v1h-1zM21 23h1v1h-1zM4 24h1v1h-1zM11 24h1v1h-1zM26 24h1v1h-1zM18 25h1v1h-1zM29 25h1v1h-1zM46 25h1v1h-1zM9 26h1v1h-1zM30 26h1v1h-1zM42 26h1v1h-1zM24 27h1v1h-1zM36 27h1v1h-1zM45 27h1v1h-1zM4 28h1v1h-1zM22 28h1v1h-1zM37 28h1v1h-1zM44 28h1v1h-1zM16 30h1v1h-1zM36 31h2v1h-2zM10 32h1v1h-1zM19 32h1v1h-1zM10 33h1v1h-1zM42 34h1v1h-1zM21 36h1v1h-1zM22 37h1v1h-1zM5 38h1v1h-1zM47 38h1v1h-1zM15 39h1v1h-1zM33 39h1v1h-1zM36 39h1v1h-1zM11 41h1v1h-1zM24 41h1v1h-1zM3 42h1v1h-1zM11 42h2v1h-2zM41 43h1v1h-1zM15 44h1v1h-1zM18 44h1v1h-1zM25 44h1v1h-1zM27 47h1v1h-1zM31 47h1v1h-1zM4 48h1v1h-1zM25 48h1v1h-1zM33 48h1v1h-1zM43 48h1v1h-1z"/>
<path fill="#d60000" d="M44 6h1v1h-1zM10 7h1v1h-1zM32 7h1v1h-1zM47 7h1v1h-1zM3 10h1v1h-1zM20 11h1v1h-1zM7 14h1v1h-1zM37 14h2v1h-2zM27 15h1v1h-1zM0 17h1v1h-1zM6 18h1v1h-1zM33 19h1v1h-1zM22 24h3v1h-3zM14 26h1v1h-1zM44 26h1v1h-1zM46 27h1v1h-1zM6 28h1v1h-1zM44 31h1v1h-1zM40 32h1v1h-1zM3 33h1v1h-1zM1 35h1v1h-1zM1 36h2v1h-2zM20 37h1v1h-1zM34 37h1v1h-1zM21 38h1v1h-1zM44 43h1v1h-1zM39 44h1v1h-1zM46 45h1v1h-1z"/>
</g>
<g class="hb" opacity="0.4"><use href="#hm1"/></g>
</g>
<rect x="91.6" y="10.5" width="214.8" height="215.1" fill="none" stroke="#445" stroke-opacity="0.55" stroke-width="0.8"/>
<rect x="328.3" y="11.2" width="26.6" height="214.2" fill="url(#jet)" stroke="#555" stroke-opacity="0.5" stroke-width="0.7"/>
<path d="M328.3 225.4h3M354.9 225.4h-3" stroke="#333" stroke-width="0.6"/>
<path d="M328.3 196.84h3M354.9 196.84h-3" stroke="#333" stroke-width="0.6"/>
<path d="M328.3 168.28h3M354.9 168.28h-3" stroke="#333" stroke-width="0.6"/>
<path d="M328.3 139.72h3M354.9 139.72h-3" stroke="#333" stroke-width="0.6"/>
<path d="M328.3 111.16h3M354.9 111.16h-3" stroke="#333" stroke-width="0.6"/>
<path d="M328.3 82.6h3M354.9 82.6h-3" stroke="#333" stroke-width="0.6"/>
<path d="M328.3 54.04h3M354.9 54.04h-3" stroke="#333" stroke-width="0.6"/>
<path d="M328.3 25.48h3M354.9 25.48h-3" stroke="#333" stroke-width="0.6"/>
<clipPath id="cp2"><rect x="433.2" y="12.2" width="212.9" height="213"/></clipPath>
<g clip-path="url(#cp2)">
<g id="hm2" shape-rendering="crispEdges" transform="translate(433.2 12.2) scale(4.34490 4.34694)">
<rect x="-2" y="-2" width="53" height="53" fill="#000091"/>
<path fill="#870000" d="M2 0h1v1h-1zM11 0h1v1h-1zM18 0h2v1h-2zM21 0h1v1h-1zM28 0h1v1h-1zM31 0h2v1h-2zM36 0h1v1h-1zM38 0h1v1h-1zM41 0h2v1h-2zM44 0h1v1h-1zM46 0h1v1h-1zM10 1h1v1h-1zM12 1h3v1h-3zM18 1h1v1h-1zM21 1h1v1h-1zM24 1h3v1h-3zM31 1h2v1h-2zM37 1h1v1h-1zM42 1h1v1h-1zM44 1h1v1h-1zM3 2h1v1h-1zM6 2h1v1h-1zM9 2h2v1h-2zM19 2h1v1h-1zM28 2h1v1h-1zM32 2h5v1h-5zM38 2h1v1h-1zM40 2h2v1h-2zM45 2h1v1h-1zM47 2h1v1h-1zM0 3h1v1h-1zM6 3h1v1h-1zM11 3h3v1h-3zM20 3h1v1h-1zM28 3h1v1h-1zM32 3h3v1h-3zM44 3h1v1h-1zM1 4h2v1h-2zM4 4h1v1h-1zM10 4h3v1h-3zM28 4h5v1h-5zM38 4h1v1h-1zM41 4h1v1h-1zM43 4h1v1h-1zM47 4h1v1h-1zM0 5h4v1h-4zM7 5h1v1h-1zM9 5h1v1h-1zM13 5h2v1h-2zM25 5h2v1h-2zM28 5h1v1h-1zM31 5h1v1h-1zM35 5h1v1h-1zM38 5h1v1h-1zM40 5h1v1h-1zM44 5h2v1h-2zM7 6h1v1h-1zM9 6h1v1h-1zM12 6h2v1h-2zM15 6h4v1h-4zM21 6h2v1h-2zM26 6h2v1h-2zM29 6h3v1h-3zM33 6h1v1h-1zM38 6h4v1h-4zM44 6h2v1h-2zM48 6h1v1h-1zM0 7h2v1h-2zM5 7h4v1h-4zM10 7h1v1h-1zM12 7h2v1h-2zM16 7h1v1h-1zM21 7h1v1h-1zM32 7h1v1h-1zM35 7h1v1h-1zM43 7h1v1h-1zM47 7h1v1h-1zM7 8h2v1h-2zM15 8h1v1h-1zM21 8h2v1h-2zM34 8h1v1h-1zM36 8h1v1h-1zM40 8h1v1h-1zM47 8h1v1h-1zM7 9h2v1h-2zM10 9h2v1h-2zM13 9h1v1h-1zM21 9h1v1h-1zM25 9h1v1h-1zM28 9h5v1h-5zM34 9h1v1h-1zM39 9h1v1h-1zM45 9h1v1h-1zM47 9h2v1h-2zM1 10h1v1h-1zM3 10h1v1h-1zM10 10h1v1h-1zM18 10h3v1h-3zM24 10h1v1h-1zM28 10h3v1h-3zM45 10h2v1h-2zM6 11h2v1h-2zM9 11h1v1h-1zM16 11h2v1h-2zM19 11h2v1h-2zM24 11h2v1h-2zM27 11h1v1h-1zM33 11h1v1h-1zM35 11h1v1h-1zM44 11h2v1h-2zM48 11h1v1h-1zM0 12h1v1h-1zM2 12h1v1h-1zM4 12h1v1h-1zM9 12h1v1h-1zM17 12h2v1h-2zM24 12h1v1h-1zM26 12h1v1h-1zM34 12h1v1h-1zM37 12h2v1h-2zM42 12h1v1h-1zM45 12h2v1h-2zM0 13h1v1h-1zM5 13h3v1h-3zM10 13h3v1h-3zM16 13h2v1h-2zM22 13h1v1h-1zM25 13h2v1h-2zM29 13h1v1h-1zM32 13h1v1h-1zM34 13h1v1h-1zM37 13h5v1h-5zM44 13h3v1h-3zM4 14h2v1h-2zM7 14h6v1h-6zM17 14h2v1h-2zM21 14h1v1h-1zM24 14h1v1h-1zM37 14h3v1h-3zM43 14h2v1h-2zM46 14h1v1h-1zM4 15h1v1h-1zM7 15h1v1h-1zM13 15h1v1h-1zM15 15h2v1h-2zM18 15h1v1h-1zM24 15h5v1h-5zM38 15h2v1h-2zM45 15h1v1h-1zM0 16h1v1h-1zM2 16h1v1h-1zM4 16h2v1h-2zM8 16h1v1h-1zM16 16h1v1h-1zM19 16h2v1h-2zM24 16h4v1h-4zM30 16h2v1h-2zM39 16h2v1h-2zM0 17h2v1h-2zM8 17h1v1h-1zM10 17h1v1h-1zM15 17h1v1h-1zM19 17h2v1h-2zM24 17h1v1h-1zM36 17h1v1h-1zM42 17h4v1h-4zM6 18h1v1h-1zM8 18h1v1h-1zM18 18h2v1h-2zM21 18h1v1h-1zM23 18h1v1h-1zM28 18h2v1h-2zM31 18h2v1h-2zM42 18h1v1h-1zM44 18h1v1h-1zM2 19h1v1h-1zM4 19h1v1h-1zM6 19h1v1h-1zM9 19h1v1h-1zM15 19h1v1h-1zM20 19h3v1h-3zM24 19h2v1h-2zM33 19h5v1h-5zM44 19h3v1h-3zM10 20h4v1h-4zM15 20h1v1h-1zM18 20h2v1h-2zM26 20h1v1h-1zM32 20h3v1h-3zM37 20h2v1h-2zM40 20h1v1h-1zM48 20h1v1h-1zM0 21h2v1h-2zM4 21h1v1h-1zM9 21h3v1h-3zM17 21h1v1h-1zM26 21h1v1h-1zM30 21h1v1h-1zM34 21h1v1h-1zM38 21h1v1h-1zM40 21h2v1h-2zM46 21h2v1h-2zM0 22h1v1h-1zM3 22h1v1h-1zM10 22h1v1h-1zM17 22h1v1h-1zM23 22h1v1h-1zM28 22h4v1h-4zM33 22h1v1h-1zM36 22h1v1h-1zM44 22h2v1h-2zM47 22h1v1h-1zM1 23h3v1h-3zM7 23h1v1h-1zM9 23h3v1h-3zM17 23h3v1h-3zM21 23h1v1h-1zM26 23h1v1h-1zM30 23h1v1h-1zM32 23h1v1h-1zM35 23h1v1h-1zM37 23h1v1h-1zM41 23h1v1h-1zM0 24h1v1h-1zM4 24h2v1h-2zM10 24h2v1h-2zM22 24h3v1h-3zM26 24h1v1h-1zM28 24h1v1h-1zM0 25h1v1h-1zM2 25h2v1h-2zM7 25h5v1h-5zM13 25h1v1h-1zM15 25h1v1h-1zM17 25h5v1h-5zM27 25h1v1h-1zM29 25h2v1h-2zM33 25h1v1h-1zM35 25h2v1h-2zM46 25h1v1h-1zM48 25h1v1h-1zM2 26h1v1h-1zM5 26h1v1h-1zM7 26h1v1h-1zM9 26h2v1h-2zM13 26h3v1h-3zM17 26h2v1h-2zM20 26h1v1h-1zM25 26h1v1h-1zM29 26h2v1h-2zM33 26h1v1h-1zM42 26h1v1h-1zM44 26h1v1h-1zM47 26h1v1h-1zM3 27h1v1h-1zM6 27h1v1h-1zM9 27h2v1h-2zM24 27h1v1h-1zM27 27h1v1h-1zM29 27h1v1h-1zM31 27h1v1h-1zM36 27h1v1h-1zM42 27h6v1h-6zM0 28h2v1h-2zM4 28h5v1h-5zM12 28h2v1h-2zM17 28h2v1h-2zM22 28h1v1h-1zM25 28h1v1h-1zM29 28h1v1h-1zM33 28h3v1h-3zM37 28h1v1h-1zM41 28h1v1h-1zM43 28h3v1h-3zM2 29h1v1h-1zM4 29h3v1h-3zM10 29h1v1h-1zM14 29h1v1h-1zM20 29h1v1h-1zM30 29h1v1h-1zM32 29h5v1h-5zM39 29h2v1h-2zM45 29h2v1h-2zM48 29h1v1h-1zM1 30h1v1h-1zM16 30h1v1h-1zM20 30h1v1h-1zM28 30h1v1h-1zM32 30h1v1h-1zM43 30h1v1h-1zM46 30h2v1h-2zM3 31h1v1h-1zM12 31h1v1h-1zM19 31h1v1h-1zM23 31h1v1h-1zM34 31h1v1h-1zM36 31h3v1h-3zM42 31h1v1h-1zM44 31h1v1h-1zM48 31h1v1h-1zM3 32h2v1h-2zM10 32h1v1h-1zM16 32h2v1h-2zM19 32h1v1h-1zM25 32h1v1h-1zM29 32h2v1h-2zM34 32h1v1h-1zM40 32h2v1h-2zM44 32h1v1h-1zM2 33h2v1h-2zM10 33h1v1h-1zM14 33h1v1h-1zM18 33h2v1h-2zM23 33h1v1h-1zM27 33h1v1h-1zM40 33h3v1h-3zM0 34h1v1h-1zM10 34h1v1h-1zM32 34h1v1h-1zM34 34h1v1h-1zM42 34h2v1h-2zM48 34h1v1h-1zM1 35h2v1h-2zM9 35h3v1h-3zM13 35h1v1h-1zM17 35h1v1h-1zM36 35h2v1h-2zM43 35h1v1h-1zM1 36h2v1h-2zM15 36h1v1h-1zM21 36h1v1h-1zM33 36h1v1h-1zM36 36h1v1h-1zM40 36h2v1h-2zM43 36h1v1h-1zM4 37h1v1h-1zM7 37h2v1h-2zM12 37h1v1h-1zM14 37h1v1h-1zM18 37h1v1h-1zM20 37h3v1h-3zM29 37h1v1h-1zM32 37h3v1h-3zM38 37h2v1h-2zM43 37h1v1h-1zM46 37h2v1h-2zM5 38h2v1h-2zM8 38h1v1h-1zM21 38h2v1h-2zM25 38h1v1h-1zM33 38h1v1h-1zM47 38h1v1h-1zM2 39h4v1h-4zM10 39h2v1h-2zM13 39h5v1h-5zM22 39h1v1h-1zM27 39h1v1h-1zM29 39h1v1h-1zM33 39h1v1h-1zM36 39h2v1h-2zM41 39h1v1h-1zM44 39h1v1h-1zM47 39h1v1h-1zM6 40h3v1h-3zM11 40h1v1h-1zM15 40h2v1h-2zM23 40h1v1h-1zM27 40h1v1h-1zM31 40h1v1h-1zM33 40h1v1h-1zM41 40h4v1h-4zM46 40h1v1h-1zM3 41h2v1h-2zM10 41h3v1h-3zM15 41h1v1h-1zM18 41h1v1h-1zM23 41h2v1h-2zM28 41h2v1h-2zM33 41h4v1h-4zM43 41h2v1h-2zM46 41h1v1h-1zM3 42h1v1h-1zM7 42h1v1h-1zM11 42h2v1h-2zM19 42h1v1h-1zM23 42h1v1h-1zM35 42h5v1h-5zM48 42h1v1h-1zM2 43h3v1h-3zM6 43h1v1h-1zM8 43h2v1h-2zM11 43h2v1h-2zM14 43h2v1h-2zM17 43h2v1h-2zM26 43h1v1h-1zM36 43h1v1h-1zM38 43h1v1h-1zM40 43h2v1h-2zM44 43h1v1h-1zM5 44h1v1h-1zM8 44h1v1h-1zM15 44h1v1h-1zM18 44h1v1h-1zM21 44h1v1h-1zM25 44h1v1h-1zM31 44h1v1h-1zM34 44h2v1h-2zM37 44h1v1h-1zM39 44h1v1h-1zM44 44h2v1h-2zM2 45h1v1h-1zM8 45h1v1h-1zM11 45h1v1h-1zM13 45h1v1h-1zM21 45h1v1h-1zM23 45h2v1h-2zM27 45h1v1h-1zM29 45h1v1h-1zM31 45h2v1h-2zM34 45h2v1h-2zM42 45h2v1h-2zM45 45h2v1h-2zM1 46h2v1h-2zM5 46h1v1h-1zM10 46h1v1h-1zM12 46h1v1h-1zM15 46h2v1h-2zM19 46h2v1h-2zM24 46h2v1h-2zM29 46h1v1h-1zM31 46h2v1h-2zM42 46h1v1h-1zM46 46h2v1h-2zM0 47h1v1h-1zM2 47h1v1h-1zM22 47h2v1h-2zM27 47h1v1h-1zM31 47h1v1h-1zM35 47h2v1h-2zM47 47h1v1h-1zM0 48h1v1h-1zM3 48h3v1h-3zM8 48h1v1h-1zM10 48h1v1h-1zM15 48h1v1h-1zM17 48h1v1h-1zM23 48h3v1h-3zM27 48h1v1h-1zM33 48h1v1h-1zM36 48h1v1h-1zM41 48h3v1h-3zM47 48h2v1h-2z"/>
</g>
</g>
<clipPath id="bd2"><rect x="433.2" y="142" width="212.9" height="53"/></clipPath>
<g clip-path="url(#bd2)"><g class="bb"><use href="#hm2"/></g></g>
<rect x="433.2" y="12.2" width="212.9" height="213" fill="none" stroke="#445" stroke-opacity="0.55" stroke-width="0.8"/>
<clipPath id="cp3"><rect x="89.8" y="247.9" width="217.1" height="217.5"/></clipPath>
<g clip-path="url(#cp3)">
<g id="hm3" shape-rendering="crispEdges" transform="translate(89.8 247.9) scale(4.43061 4.43878)">
<rect x="-2" y="-2" width="53" height="53" fill="#000cff"/>
<path fill="#0000e4" d="M0 0h1v1h-1zM48 1h1v1h-1zM17 2h1v1h-1zM15 5h1v1h-1zM8 6h1v1h-1zM4 7h1v1h-1zM28 11h1v1h-1zM5 14h1v1h-1zM47 14h1v1h-1zM41 15h1v1h-1zM22 17h1v1h-1zM40 24h1v1h-1zM43 24h1v1h-1zM41 25h1v1h-1zM29 26h1v1h-1zM18 28h1v1h-1zM37 30h1v1h-1zM5 33h1v1h-1zM45 34h1v1h-1zM47 34h1v1h-1zM27 35h1v1h-1zM8 36h1v1h-1zM29 36h1v1h-1zM31 36h1v1h-1zM27 37h1v1h-1zM2 39h1v1h-1zM1 43h1v1h-1zM20 45h1v1h-1zM14 48h1v1h-1zM19 48h1v1h-1zM40 48h1v1h-1z"/>
<path fill="#0034ff" d="M15 0h2v1h-2zM19 0h1v1h-1zM35 0h1v1h-1zM37 0h1v1h-1zM39 0h1v1h-1zM2 1h1v1h-1zM18 1h1v1h-1zM6 2h1v1h-1zM11 2h1v1h-1zM33 2h1v1h-1zM36 2h1v1h-1zM10 4h1v1h-1zM11 5h1v1h-1zM25 5h1v1h-1zM44 5h1v1h-1zM28 6h1v1h-1zM46 6h1v1h-1zM7 7h1v1h-1zM21 8h1v1h-1zM30 8h1v1h-1zM46 8h1v1h-1zM7 9h1v1h-1zM26 9h1v1h-1zM7 10h1v1h-1zM40 10h1v1h-1zM6 11h1v1h-1zM20 12h2v1h-2zM34 12h1v1h-1zM31 13h1v1h-1zM41 13h1v1h-1zM4 14h1v1h-1zM35 16h1v1h-1zM28 17h1v1h-1zM38 17h1v1h-1zM7 20h1v1h-1zM42 20h1v1h-1zM46 21h1v1h-1zM26 23h1v1h-1zM15 25h1v1h-1zM32 25h1v1h-1zM11 26h1v1h-1zM13 27h1v1h-1zM30 27h1v1h-1zM6 28h1v1h-1zM4 29h1v1h-1zM8 29h1v1h-1zM16 32h1v1h-1zM18 32h1v1h-1zM19 34h1v1h-1zM26 35h1v1h-1zM30 35h1v1h-1zM25 38h1v1h-1zM27 38h1v1h-1zM15 39h1v1h-1zM39 39h1v1h-1zM41 42h1v1h-1zM4 44h1v1h-1zM11 44h1v1h-1zM18 45h1v1h-1zM12 46h1v1h-1zM31 46h1v1h-1zM26 47h1v1h-1z"/>
<path fill="#005cff" d="M31 0h1v1h-1zM30 1h1v1h-1zM36 1h1v1h-1zM5 2h1v1h-1zM38 2h1v1h-1zM11 3h1v1h-1zM5 4h1v1h-1zM17 5h1v1h-1zM42 5h1v1h-1zM20 6h1v1h-1zM29 6h1v1h-1zM37 6h1v1h-1zM36 7h1v1h-1zM21 9h2v1h-2zM19 10h1v1h-1zM44 10h1v1h-1zM46 10h1v1h-1zM15 11h1v1h-1zM43 11h1v1h-1zM21 13h1v1h-1zM34 13h1v1h-1zM31 14h1v1h-1zM32 15h1v1h-1zM34 15h2v1h-2zM38 16h1v1h-1zM47 17h1v1h-1zM33 19h1v1h-1zM11 20h1v1h-1zM33 20h1v1h-1zM14 22h1v1h-1zM42 24h1v1h-1zM1 25h1v1h-1zM25 25h1v1h-1zM34 26h1v1h-1zM34 27h1v1h-1zM1 30h2v1h-2zM6 30h1v1h-1zM12 30h2v1h-2zM27 32h1v1h-1zM47 33h1v1h-1zM48 34h1v1h-1zM25 35h1v1h-1zM9 36h1v1h-1zM48 36h1v1h-1zM18 40h1v1h-1zM37 40h1v1h-1zM48 40h1v1h-1zM13 41h1v1h-1zM23 41h1v1h-1zM39 42h1v1h-1zM2 44h1v1h-1zM13 44h1v1h-1zM13 46h1v1h-1zM21 46h1v1h-1zM15 48h1v1h-1zM25 48h1v1h-1z"/>
<path fill="#00abff" d="M14 32h1v1h-1z"/>
<path fill="#00d3ff" d="M2 3h1v1h-1zM9 3h1v1h-1zM34 6h1v1h-1zM26 8h1v1h-1zM1 14h1v1h-1zM6 16h1v1h-1zM41 17h1v1h-1zM17 18h1v1h-1zM1 22h1v1h-1zM27 22h1v1h-1zM39 22h1v1h-1zM17 25h1v1h-1zM1 33h1v1h-1zM31 35h1v1h-1zM33 37h1v1h-1zM43 44h1v1h-1zM20 46h1v1h-1zM46 46h1v1h-1z"/>
<path fill="#00faff" d="M12 0h1v1h-1zM6 1h1v1h-1zM17 1h1v1h-1zM19 1h1v1h-1zM23 1h1v1h-1zM4 6h1v1h-1zM33 6h1v1h-1zM40 7h1v1h-1zM3 8h1v1h-1zM27 8h1v1h-1zM32 11h1v1h-1zM27 12h1v1h-1zM31 16h1v1h-1zM40 16h1v1h-1zM44 19h1v1h-1zM35 20h1v1h-1zM12 23h1v1h-1zM20 24h1v1h-1zM29 24h1v1h-1zM18 25h1v1h-1zM13 26h1v1h-1zM23 26h1v1h-1zM36 27h1v1h-1zM7 28h1v1h-1zM46 28h1v1h-1zM9 29h1v1h-1zM20 29h1v1h-1zM33 29h1v1h-1zM0 32h1v1h-1zM44 34h1v1h-1zM11 36h1v1h-1zM19 37h1v1h-1zM32 37h1v1h-1zM41 37h1v1h-1zM8 38h1v1h-1zM13 38h1v1h-1zM19 38h1v1h-1zM40 39h1v1h-1zM1 40h1v1h-1zM36 40h1v1h-1zM7 41h1v1h-1zM17 41h1v1h-1zM40 44h2v1h-2zM27 45h1v1h-1z"/>
<path fill="#23ffdc" d="M1 1h1v1h-1zM43 1h1v1h-1zM9 2h1v1h-1zM24 3h1v1h-1zM14 4h1v1h-1zM44 6h1v1h-1zM7 8h1v1h-1zM13 8h1v1h-1zM19 8h1v1h-1zM46 13h2v1h-2zM18 14h1v1h-1zM39 20h1v1h-1zM1 21h1v1h-1zM12 21h1v1h-1zM35 22h1v1h-1zM37 23h1v1h-1zM9 24h1v1h-1zM6 26h1v1h-1zM8 26h1v1h-1zM31 29h1v1h-1zM18 30h1v1h-1zM25 32h1v1h-1zM0 34h1v1h-1zM24 34h1v1h-1zM2 36h1v1h-1zM16 36h1v1h-1zM43 38h1v1h-1zM6 39h1v1h-1zM9 39h1v1h-1zM20 39h1v1h-1zM3 40h1v1h-1zM47 40h1v1h-1zM28 41h1v1h-1zM40 43h1v1h-1zM8 45h1v1h-1zM43 47h1v1h-1zM46 47h1v1h-1z"/>
<path fill="#4bffb4" d="M11 0h1v1h-1zM18 0h1v1h-1zM26 0h1v1h-1zM25 2h1v1h-1zM8 3h1v1h-1zM28 3h1v1h-1zM38 3h1v1h-1zM42 4h1v1h-1zM3 6h1v1h-1zM12 8h1v1h-1zM15 8h1v1h-1zM17 10h1v1h-1zM8 11h1v1h-1zM8 12h1v1h-1zM8 13h1v1h-1zM14 15h1v1h-1zM1 16h1v1h-1zM41 18h1v1h-1zM48 18h1v1h-1zM18 19h1v1h-1zM23 19h1v1h-1zM9 21h1v1h-1zM44 21h1v1h-1zM15 22h1v1h-1zM21 22h1v1h-1zM25 22h1v1h-1zM43 22h1v1h-1zM3 23h1v1h-1zM10 25h1v1h-1zM15 26h1v1h-1zM10 27h1v1h-1zM9 28h1v1h-1zM36 28h1v1h-1zM27 29h1v1h-1zM21 30h1v1h-1zM28 30h1v1h-1zM39 30h1v1h-1zM25 31h1v1h-1zM11 32h1v1h-1zM25 34h1v1h-1zM5 35h1v1h-1zM0 37h2v1h-2zM45 37h1v1h-1zM44 39h1v1h-1zM42 40h1v1h-1zM21 41h1v1h-1zM36 42h1v1h-1zM44 42h1v1h-1zM25 43h1v1h-1zM37 44h1v1h-1zM44 45h1v1h-1zM11 46h1v1h-1zM14 47h1v1h-1zM18 47h1v1h-1zM24 47h1v1h-1zM44 47h1v1h-1zM18 48h1v1h-1zM28 48h1v1h-1z"/>
<path fill="#72ff8d" d="M41 0h1v1h-1zM48 0h1v1h-1zM37 1h2v1h-2zM39 2h1v1h-1zM6 4h1v1h-1zM32 4h1v1h-1zM34 4h1v1h-1zM47 5h1v1h-1zM36 6h1v1h-1zM28 7h1v1h-1zM8 8h1v1h-1zM17 8h1v1h-1zM23 8h1v1h-1zM48 8h1v1h-1zM43 9h1v1h-1zM47 11h1v1h-1zM13 14h1v1h-1zM26 14h1v1h-1zM15 15h1v1h-1zM18 15h1v1h-1zM36 15h1v1h-1zM33 16h1v1h-1zM31 17h1v1h-1zM45 17h1v1h-1zM16 18h1v1h-1zM28 18h1v1h-1zM45 18h1v1h-1zM8 19h1v1h-1zM34 19h1v1h-1zM20 21h1v1h-1zM38 24h1v1h-1zM5 25h1v1h-1zM19 26h1v1h-1zM21 26h1v1h-1zM37 26h1v1h-1zM38 27h1v1h-1zM23 31h1v1h-1zM36 31h1v1h-1zM23 32h1v1h-1zM36 32h1v1h-1zM11 34h1v1h-1zM16 34h1v1h-1zM28 34h1v1h-1zM32 35h1v1h-1zM43 35h1v1h-1zM0 36h1v1h-1zM5 36h1v1h-1zM40 37h1v1h-1zM10 38h1v1h-1zM37 38h1v1h-1zM22 39h1v1h-1zM23 40h2v1h-2zM32 40h1v1h-1zM10 41h1v1h-1zM5 42h1v1h-1zM8 42h1v1h-1zM26 42h1v1h-1zM24 44h1v1h-1zM34 45h1v1h-1zM43 45h1v1h-1zM5 46h1v1h-1z"/>
<path fill="#9aff65" d="M5 0h1v1h-1zM45 0h1v1h-1zM44 1h1v1h-1zM40 2h1v1h-1zM37 3h1v1h-1zM40 3h1v1h-1zM34 5h1v1h-1zM41 6h1v1h-1zM20 7h1v1h-1zM27 7h1v1h-1zM16 8h1v1h-1zM22 8h1v1h-1zM44 9h1v1h-1zM3 10h2v1h-2zM11 11h2v1h-2zM40 11h1v1h-1zM19 12h1v1h-1zM36 14h1v1h-1zM46 14h1v1h-1zM5 16h1v1h-1zM8 16h1v1h-1zM26 16h1v1h-1zM11 17h1v1h-1zM32 17h1v1h-1zM44 17h1v1h-1zM22 18h1v1h-1zM36 18h1v1h-1zM1 19h1v1h-1zM19 20h1v1h-1zM31 20h1v1h-1zM18 21h1v1h-1zM23 22h1v1h-1zM2 23h1v1h-1zM11 23h1v1h-1zM27 23h1v1h-1zM33 23h1v1h-1zM5 24h1v1h-1zM31 25h1v1h-1zM33 25h1v1h-1zM5 26h1v1h-1zM14 26h1v1h-1zM30 26h1v1h-1zM9 27h1v1h-1zM35 27h1v1h-1zM37 27h1v1h-1zM13 28h1v1h-1zM14 30h1v1h-1zM22 31h1v1h-1zM28 31h1v1h-1zM13 32h1v1h-1zM40 32h1v1h-1zM47 32h1v1h-1zM44 33h1v1h-1zM33 34h1v1h-1zM1 36h1v1h-1zM38 36h1v1h-1zM18 37h1v1h-1zM39 38h1v1h-1zM24 39h1v1h-1zM27 40h2v1h-2zM33 42h1v1h-1zM37 42h1v1h-1zM42 42h1v1h-1zM38 43h1v1h-1zM44 43h1v1h-1zM26 44h1v1h-1zM0 45h1v1h-1zM4 45h1v1h-1zM2 46h1v1h-1zM44 46h1v1h-1z"/>
<path fill="#c2ff3d" d="M21 0h3v1h-3zM44 0h1v1h-1zM46 0h1v1h-1zM13 1h1v1h-1zM6 3h1v1h-1zM23 3h1v1h-1zM27 3h1v1h-1zM26 4h1v1h-1zM30 4h1v1h-1zM40 4h1v1h-1zM48 4h1v1h-1zM21 5h1v1h-1zM38 5h1v1h-1zM39 6h1v1h-1zM25 7h1v1h-1zM43 8h1v1h-1zM45 8h1v1h-1zM20 9h1v1h-1zM36 9h1v1h-1zM39 9h1v1h-1zM45 9h1v1h-1zM15 10h1v1h-1zM28 10h1v1h-1zM34 10h1v1h-1zM5 11h1v1h-1zM39 12h1v1h-1zM22 13h1v1h-1zM40 13h1v1h-1zM25 14h1v1h-1zM9 18h1v1h-1zM31 18h1v1h-1zM43 18h1v1h-1zM28 19h1v1h-1zM30 19h1v1h-1zM1 20h1v1h-1zM22 21h1v1h-1zM27 21h1v1h-1zM36 22h1v1h-1zM2 24h1v1h-1zM7 24h1v1h-1zM26 24h1v1h-1zM30 24h1v1h-1zM39 28h1v1h-1zM14 29h1v1h-1zM29 29h1v1h-1zM46 29h1v1h-1zM34 30h2v1h-2zM42 30h1v1h-1zM22 33h1v1h-1zM33 33h1v1h-1zM5 34h1v1h-1zM8 34h1v1h-1zM29 37h1v1h-1zM36 38h1v1h-1zM45 38h1v1h-1zM21 39h1v1h-1zM32 39h1v1h-1zM34 39h1v1h-1zM33 40h1v1h-1zM35 40h1v1h-1zM16 41h1v1h-1zM34 42h1v1h-1zM23 43h1v1h-1zM36 43h1v1h-1zM46 43h1v1h-1zM28 44h1v1h-1zM30 44h1v1h-1zM33 44h1v1h-1zM35 44h1v1h-1zM38 44h1v1h-1zM48 44h1v1h-1zM14 45h1v1h-1zM40 45h1v1h-1zM29 46h1v1h-1zM32 46h1v1h-1zM40 46h1v1h-1zM45 47h1v1h-1zM47 48h1v1h-1z"/>
<path fill="#e9ff16" d="M7 1h1v1h-1zM14 1h1v1h-1zM25 1h1v1h-1zM34 1h1v1h-1zM41 1h1v1h-1zM20 2h1v1h-1zM32 3h1v1h-1zM33 5h1v1h-1zM34 7h1v1h-1zM41 8h1v1h-1zM13 9h1v1h-1zM18 9h1v1h-1zM35 9h1v1h-1zM11 10h1v1h-1zM33 10h1v1h-1zM42 10h1v1h-1zM47 10h1v1h-1zM13 11h1v1h-1zM16 12h1v1h-1zM13 13h1v1h-1zM17 13h1v1h-1zM39 14h1v1h-1zM6 15h1v1h-1zM39 17h1v1h-1zM46 17h1v1h-1zM4 18h1v1h-1zM42 18h1v1h-1zM46 18h1v1h-1zM17 19h1v1h-1zM19 19h1v1h-1zM29 19h1v1h-1zM36 19h1v1h-1zM6 20h1v1h-1zM22 20h1v1h-1zM6 21h1v1h-1zM5 23h1v1h-1zM12 24h1v1h-1zM6 25h1v1h-1zM11 25h1v1h-1zM45 25h1v1h-1zM22 26h1v1h-1zM14 27h2v1h-2zM8 28h1v1h-1zM10 29h1v1h-1zM22 30h3v1h-3zM7 31h1v1h-1zM21 31h1v1h-1zM6 32h1v1h-1zM14 33h1v1h-1zM40 33h1v1h-1zM1 35h1v1h-1zM13 36h1v1h-1zM18 36h1v1h-1zM22 36h1v1h-1zM21 38h1v1h-1zM48 38h1v1h-1zM12 39h1v1h-1zM11 40h1v1h-1zM20 40h2v1h-2zM11 41h1v1h-1zM26 41h1v1h-1zM19 43h2v1h-2zM26 43h1v1h-1zM29 43h1v1h-1zM33 43h2v1h-2zM25 44h1v1h-1zM26 45h1v1h-1zM36 45h1v1h-1zM1 46h1v1h-1zM41 47h1v1h-1z"/>
<path fill="#ffed00" d="M2 0h1v1h-1zM13 0h1v1h-1zM20 0h1v1h-1zM10 2h1v1h-1zM27 2h1v1h-1zM45 2h1v1h-1zM41 3h1v1h-1zM35 4h1v1h-1zM3 5h1v1h-1zM7 5h1v1h-1zM19 5h1v1h-1zM22 5h1v1h-1zM30 5h1v1h-1zM23 6h1v1h-1zM1 7h1v1h-1zM23 7h1v1h-1zM9 8h1v1h-1zM19 9h1v1h-1zM0 10h1v1h-1zM22 10h1v1h-1zM25 11h1v1h-1zM1 13h1v1h-1zM16 14h1v1h-1zM21 14h2v1h-2zM8 15h1v1h-1zM4 16h1v1h-1zM36 16h1v1h-1zM48 16h1v1h-1zM12 17h1v1h-1zM2 20h1v1h-1zM20 20h1v1h-1zM23 20h1v1h-1zM29 20h1v1h-1zM16 21h1v1h-1zM34 21h1v1h-1zM24 22h1v1h-1zM20 23h1v1h-1zM36 24h1v1h-1zM48 24h1v1h-1zM38 26h1v1h-1zM5 27h1v1h-1zM10 28h1v1h-1zM42 28h1v1h-1zM28 29h1v1h-1zM25 30h1v1h-1zM13 31h1v1h-1zM38 31h1v1h-1zM37 33h1v1h-1zM6 34h1v1h-1zM35 34h2v1h-2zM43 34h1v1h-1zM11 35h1v1h-1zM4 36h1v1h-1zM41 36h1v1h-1zM43 36h1v1h-1zM12 37h1v1h-1zM44 38h1v1h-1zM18 39h1v1h-1zM43 42h1v1h-1zM46 42h1v1h-1zM30 43h1v1h-1zM5 45h1v1h-1zM4 46h1v1h-1zM28 46h1v1h-1zM30 46h1v1h-1zM21 47h1v1h-1zM30 47h1v1h-1zM42 47h1v1h-1zM11 48h1v1h-1z"/>
<path fill="#ffc500" d="M32 0h1v1h-1zM21 1h1v1h-1zM40 1h1v1h-1zM8 2h1v1h-1zM23 2h1v1h-1zM37 2h1v1h-1zM48 2h1v1h-1zM0 3h1v1h-1zM5 3h1v1h-1zM18 3h2v1h-2zM2 4h1v1h-1zM13 4h1v1h-1zM15 4h1v1h-1zM18 4h1v1h-1zM31 4h1v1h-1zM41 4h1v1h-1zM47 4h1v1h-1zM26 5h1v1h-1zM35 5h1v1h-1zM37 5h1v1h-1zM48 5h1v1h-1zM5 6h1v1h-1zM32 6h1v1h-1zM35 6h1v1h-1zM42 6h1v1h-1zM14 9h1v1h-1zM16 9h1v1h-1zM30 9h2v1h-2zM33 9h1v1h-1zM13 10h1v1h-1zM16 10h1v1h-1zM26 11h1v1h-1zM39 11h1v1h-1zM46 12h2v1h-2zM38 15h1v1h-1zM44 15h1v1h-1zM39 16h1v1h-1zM26 17h1v1h-1zM43 17h1v1h-1zM44 18h1v1h-1zM13 19h1v1h-1zM15 19h1v1h-1zM26 19h1v1h-1zM43 19h1v1h-1zM34 20h1v1h-1zM44 20h1v1h-1zM19 21h1v1h-1zM37 21h1v1h-1zM32 22h1v1h-1zM7 23h1v1h-1zM25 24h1v1h-1zM7 25h1v1h-1zM36 25h1v1h-1zM39 26h1v1h-1zM1 27h1v1h-1zM45 28h1v1h-1zM12 29h1v1h-1zM18 29h1v1h-1zM7 30h1v1h-1zM26 31h1v1h-1zM8 32h1v1h-1zM32 32h1v1h-1zM44 32h1v1h-1zM38 33h1v1h-1zM27 34h1v1h-1zM2 35h1v1h-1zM6 35h1v1h-1zM10 35h1v1h-1zM12 36h1v1h-1zM14 36h1v1h-1zM19 36h1v1h-1zM39 36h1v1h-1zM9 38h1v1h-1zM18 38h1v1h-1zM2 40h1v1h-1zM26 40h1v1h-1zM31 40h1v1h-1zM45 40h1v1h-1zM0 41h1v1h-1zM27 41h1v1h-1zM30 41h1v1h-1zM32 42h1v1h-1zM18 43h1v1h-1zM28 43h1v1h-1zM29 44h1v1h-1zM31 44h1v1h-1zM44 44h1v1h-1zM9 45h1v1h-1zM32 45h1v1h-1zM4 47h1v1h-1zM7 47h1v1h-1zM13 48h1v1h-1zM37 48h1v1h-1zM39 48h1v1h-1z"/>
<path fill="#ff9e00" d="M10 0h1v1h-1zM26 2h1v1h-1zM0 5h1v1h-1zM14 5h1v1h-1zM46 5h1v1h-1zM12 7h1v1h-1zM29 7h1v1h-1zM20 8h1v1h-1zM24 8h1v1h-1zM42 8h1v1h-1zM44 8h1v1h-1zM8 9h1v1h-1zM31 10h1v1h-1zM43 10h1v1h-1zM41 11h1v1h-1zM30 12h2v1h-2zM48 12h1v1h-1zM26 13h1v1h-1zM44 14h1v1h-1zM18 16h1v1h-1zM18 17h1v1h-1zM42 17h1v1h-1zM48 17h1v1h-1zM15 18h1v1h-1zM18 18h2v1h-2zM39 18h1v1h-1zM42 19h1v1h-1zM12 20h1v1h-1zM18 20h1v1h-1zM36 20h1v1h-1zM2 21h1v1h-1zM29 21h1v1h-1zM36 21h1v1h-1zM43 21h1v1h-1zM26 22h1v1h-1zM30 22h1v1h-1zM44 22h1v1h-1zM9 23h1v1h-1zM44 23h1v1h-1zM11 24h1v1h-1zM7 26h1v1h-1zM42 26h1v1h-1zM46 26h1v1h-1zM7 27h1v1h-1zM22 27h1v1h-1zM0 28h1v1h-1zM3 28h1v1h-1zM42 29h1v1h-1zM45 29h1v1h-1zM2 31h1v1h-1zM5 31h1v1h-1zM10 31h1v1h-1zM32 31h2v1h-2zM37 31h1v1h-1zM12 32h1v1h-1zM34 32h1v1h-1zM13 33h1v1h-1zM25 33h1v1h-1zM45 33h1v1h-1zM12 34h1v1h-1zM20 34h1v1h-1zM42 36h1v1h-1zM43 37h1v1h-1zM34 38h1v1h-1zM35 39h2v1h-2zM46 39h1v1h-1zM34 40h1v1h-1zM31 43h1v1h-1zM27 44h1v1h-1zM1 45h1v1h-1zM35 45h1v1h-1zM34 46h1v1h-1zM43 46h1v1h-1zM3 47h1v1h-1zM9 48h1v1h-1zM20 48h1v1h-1zM29 48h1v1h-1zM36 48h1v1h-1z"/>
<path fill="#ff7600" d="M38 0h1v1h-1zM4 1h1v1h-1zM45 1h1v1h-1zM47 1h1v1h-1zM15 2h1v1h-1zM1 3h1v1h-1zM15 3h1v1h-1zM21 4h1v1h-1zM36 4h1v1h-1zM1 5h1v1h-1zM11 6h1v1h-1zM30 6h1v1h-1zM38 6h1v1h-1zM40 6h1v1h-1zM43 6h1v1h-1zM6 7h1v1h-1zM24 7h1v1h-1zM31 7h1v1h-1zM10 8h1v1h-1zM25 8h1v1h-1zM33 8h1v1h-1zM15 9h1v1h-1zM29 9h1v1h-1zM32 9h1v1h-1zM47 9h1v1h-1zM48 10h1v1h-1zM16 11h1v1h-1zM26 12h1v1h-1zM20 14h1v1h-1zM38 14h1v1h-1zM1 15h1v1h-1zM9 15h1v1h-1zM48 15h1v1h-1zM0 17h1v1h-1zM27 18h1v1h-1zM40 18h1v1h-1zM9 19h1v1h-1zM35 19h1v1h-1zM37 19h2v1h-2zM46 19h1v1h-1zM0 20h1v1h-1zM15 20h1v1h-1zM5 22h1v1h-1zM31 23h1v1h-1zM32 24h1v1h-1zM37 24h1v1h-1zM46 24h1v1h-1zM13 25h1v1h-1zM22 25h1v1h-1zM30 25h1v1h-1zM12 26h1v1h-1zM36 26h1v1h-1zM38 28h1v1h-1zM44 28h1v1h-1zM19 29h1v1h-1zM35 29h1v1h-1zM40 29h1v1h-1zM27 31h1v1h-1zM30 31h1v1h-1zM45 31h1v1h-1zM48 31h1v1h-1zM9 32h1v1h-1zM46 32h1v1h-1zM7 33h1v1h-1zM15 33h1v1h-1zM20 33h1v1h-1zM27 33h1v1h-1zM39 33h1v1h-1zM1 34h1v1h-1zM30 34h1v1h-1zM39 34h1v1h-1zM0 35h1v1h-1zM13 35h1v1h-1zM29 35h1v1h-1zM7 36h1v1h-1zM20 36h2v1h-2zM38 37h1v1h-1zM1 38h2v1h-2zM33 39h1v1h-1zM43 39h1v1h-1zM45 39h1v1h-1zM44 40h1v1h-1zM41 41h1v1h-1zM17 42h1v1h-1zM28 42h1v1h-1zM15 43h2v1h-2zM27 43h1v1h-1zM35 43h1v1h-1zM37 43h1v1h-1zM39 43h1v1h-1zM36 44h1v1h-1zM41 45h1v1h-1zM10 46h1v1h-1zM19 46h1v1h-1zM25 46h1v1h-1zM33 46h1v1h-1zM11 47h1v1h-1zM19 47h1v1h-1zM22 47h2v1h-2zM21 48h1v1h-1zM44 48h1v1h-1zM48 48h1v1h-1z"/>
<path fill="#ff4e00" d="M40 0h1v1h-1zM12 1h1v1h-1zM16 1h1v1h-1zM14 2h1v1h-1zM16 2h1v1h-1zM10 3h1v1h-1zM21 3h1v1h-1zM35 3h1v1h-1zM1 4h1v1h-1zM7 4h1v1h-1zM29 5h1v1h-1zM40 5h1v1h-1zM0 7h1v1h-1zM30 7h1v1h-1zM33 7h1v1h-1zM5 8h2v1h-2zM38 8h1v1h-1zM11 9h1v1h-1zM23 10h1v1h-1zM35 10h1v1h-1zM0 11h1v1h-1zM17 11h1v1h-1zM9 12h1v1h-1zM9 13h1v1h-1zM27 13h1v1h-1zM32 13h1v1h-1zM8 14h1v1h-1zM26 15h1v1h-1zM14 16h1v1h-1zM1 17h1v1h-1zM7 17h1v1h-1zM13 17h1v1h-1zM33 17h1v1h-1zM8 18h1v1h-1zM14 18h1v1h-1zM26 18h1v1h-1zM35 18h1v1h-1zM3 19h1v1h-1zM24 19h1v1h-1zM3 20h1v1h-1zM26 20h1v1h-1zM0 21h1v1h-1zM14 21h1v1h-1zM39 21h1v1h-1zM29 22h1v1h-1zM31 22h1v1h-1zM41 22h1v1h-1zM8 23h1v1h-1zM14 23h1v1h-1zM3 24h2v1h-2zM8 24h1v1h-1zM22 24h1v1h-1zM28 24h1v1h-1zM33 24h1v1h-1zM9 25h1v1h-1zM12 25h1v1h-1zM21 25h1v1h-1zM0 27h1v1h-1zM6 27h1v1h-1zM18 27h1v1h-1zM21 27h1v1h-1zM44 27h2v1h-2zM24 28h1v1h-1zM25 29h1v1h-1zM48 29h1v1h-1zM40 30h1v1h-1zM24 31h1v1h-1zM44 31h1v1h-1zM7 32h1v1h-1zM22 32h1v1h-1zM0 33h1v1h-1zM30 33h1v1h-1zM9 34h1v1h-1zM21 35h2v1h-2zM17 36h1v1h-1zM8 37h1v1h-1zM11 37h1v1h-1zM39 37h1v1h-1zM44 37h1v1h-1zM48 37h1v1h-1zM16 38h1v1h-1zM17 39h1v1h-1zM25 39h1v1h-1zM27 39h1v1h-1zM31 39h1v1h-1zM41 39h1v1h-1zM0 40h1v1h-1zM40 40h1v1h-1zM20 41h1v1h-1zM32 41h1v1h-1zM37 41h1v1h-1zM1 42h1v1h-1zM19 42h1v1h-1zM25 42h1v1h-1zM41 43h1v1h-1zM39 44h1v1h-1zM13 45h1v1h-1zM33 45h1v1h-1zM39 45h1v1h-1zM6 46h1v1h-1zM24 46h1v1h-1zM27 46h1v1h-1zM35 46h1v1h-1zM45 46h1v1h-1zM17 48h1v1h-1zM38 48h1v1h-1z"/>
<path fill="#ff2700" d="M47 0h1v1h-1zM11 1h1v1h-1zM18 2h1v1h-1zM24 2h1v1h-1zM22 3h1v1h-1zM2 5h1v1h-1zM20 5h1v1h-1zM39 5h1v1h-1zM43 5h1v1h-1zM45 5h1v1h-1zM22 6h1v1h-1zM31 6h1v1h-1zM5 7h1v1h-1zM8 7h2v1h-2zM11 7h1v1h-1zM34 8h2v1h-2zM12 9h1v1h-1zM17 9h1v1h-1zM28 9h1v1h-1zM2 10h1v1h-1zM29 10h1v1h-1zM36 10h1v1h-1zM33 11h1v1h-1zM7 12h1v1h-1zM6 14h1v1h-1zM12 14h1v1h-1zM17 14h1v1h-1zM24 14h1v1h-1zM37 14h1v1h-1zM7 15h1v1h-1zM32 16h1v1h-1zM16 17h1v1h-1zM34 17h1v1h-1zM23 18h1v1h-1zM2 19h1v1h-1zM10 19h2v1h-2zM22 19h1v1h-1zM45 19h1v1h-1zM17 20h1v1h-1zM30 20h1v1h-1zM8 21h1v1h-1zM10 21h1v1h-1zM13 21h1v1h-1zM35 21h1v1h-1zM0 22h1v1h-1zM38 22h1v1h-1zM42 22h1v1h-1zM36 23h1v1h-1zM34 24h1v1h-1zM45 24h1v1h-1zM47 24h1v1h-1zM16 25h1v1h-1zM9 26h1v1h-1zM47 26h1v1h-1zM4 27h1v1h-1zM1 28h1v1h-1zM28 28h1v1h-1zM17 29h1v1h-1zM34 29h1v1h-1zM47 29h1v1h-1zM10 30h1v1h-1zM29 30h1v1h-1zM32 30h2v1h-2zM9 31h1v1h-1zM11 31h1v1h-1zM35 31h1v1h-1zM33 32h1v1h-1zM39 32h1v1h-1zM36 33h1v1h-1zM21 34h1v1h-1zM4 35h1v1h-1zM25 36h1v1h-1zM42 37h1v1h-1zM47 37h1v1h-1zM17 38h1v1h-1zM42 39h1v1h-1zM30 40h1v1h-1zM19 41h1v1h-1zM25 41h1v1h-1zM31 41h1v1h-1zM34 41h1v1h-1zM18 42h1v1h-1zM20 42h1v1h-1zM27 42h1v1h-1zM31 42h1v1h-1zM7 46h1v1h-1zM38 46h1v1h-1zM10 48h1v1h-1zM22 48h1v1h-1zM33 48h1v1h-1z"/>
<path fill="#fe0000" d="M8 0h1v1h-1zM43 0h1v1h-1zM5 1h1v1h-1zM8 1h1v1h-1zM4 2h1v1h-1zM29 2h1v1h-1zM14 3h1v1h-1zM33 3h1v1h-1zM48 3h1v1h-1zM0 4h1v1h-1zM32 5h1v1h-1zM12 6h1v1h-1zM14 7h2v1h-2zM19 7h1v1h-1zM18 8h1v1h-1zM5 9h1v1h-1zM24 9h1v1h-1zM37 9h1v1h-1zM48 9h1v1h-1zM12 10h1v1h-1zM4 11h1v1h-1zM23 11h1v1h-1zM32 12h1v1h-1zM12 13h1v1h-1zM7 14h1v1h-1zM19 14h1v1h-1zM2 15h1v1h-1zM4 15h1v1h-1zM28 15h1v1h-1zM39 15h1v1h-1zM6 17h1v1h-1zM5 18h1v1h-1zM32 18h3v1h-3zM37 18h2v1h-2zM47 18h1v1h-1zM39 19h1v1h-1zM21 20h1v1h-1zM24 20h1v1h-1zM47 21h1v1h-1zM37 22h1v1h-1zM16 23h1v1h-1zM30 23h1v1h-1zM10 24h1v1h-1zM21 24h1v1h-1zM8 25h1v1h-1zM37 25h1v1h-1zM46 25h1v1h-1zM41 26h1v1h-1zM47 27h1v1h-1zM0 29h1v1h-1zM30 29h1v1h-1zM39 29h1v1h-1zM1 31h1v1h-1zM8 31h1v1h-1zM14 31h1v1h-1zM34 31h1v1h-1zM47 31h1v1h-1zM1 32h2v1h-2zM10 32h1v1h-1zM35 32h1v1h-1zM11 33h1v1h-1zM10 34h1v1h-1zM14 34h2v1h-2zM26 34h1v1h-1zM38 34h1v1h-1zM3 35h1v1h-1zM6 36h1v1h-1zM23 36h1v1h-1zM46 37h1v1h-1zM22 38h1v1h-1zM46 40h1v1h-1zM8 41h1v1h-1zM35 41h1v1h-1zM43 41h1v1h-1zM34 44h1v1h-1zM12 45h1v1h-1zM23 45h1v1h-1zM42 45h1v1h-1zM0 46h1v1h-1zM26 46h1v1h-1zM41 46h2v1h-2zM0 48h1v1h-1zM34 48h1v1h-1z"/>
<path fill="#d60000" d="M20 1h1v1h-1zM31 11h1v1h-1zM41 12h1v1h-1zM29 15h1v1h-1zM24 18h1v1h-1zM21 21h1v1h-1zM23 25h1v1h-1zM43 28h1v1h-1zM43 29h1v1h-1zM0 39h1v1h-1zM23 39h1v1h-1zM45 42h1v1h-1z"/>
</g>
<g class="hb" opacity="0.4"><use href="#hm3"/></g>
</g>
<rect x="89.8" y="247.9" width="217.1" height="217.5" fill="none" stroke="#445" stroke-opacity="0.55" stroke-width="0.8"/>
<rect x="328.1" y="248.4" width="27.1" height="217.3" fill="url(#jet)" stroke="#555" stroke-opacity="0.5" stroke-width="0.7"/>
<path d="M328.1 465.7h3M355.2 465.7h-3" stroke="#333" stroke-width="0.6"/>
<path d="M328.1 436.73h3M355.2 436.73h-3" stroke="#333" stroke-width="0.6"/>
<path d="M328.1 407.75h3M355.2 407.75h-3" stroke="#333" stroke-width="0.6"/>
<path d="M328.1 378.78h3M355.2 378.78h-3" stroke="#333" stroke-width="0.6"/>
<path d="M328.1 349.81h3M355.2 349.81h-3" stroke="#333" stroke-width="0.6"/>
<path d="M328.1 320.83h3M355.2 320.83h-3" stroke="#333" stroke-width="0.6"/>
<path d="M328.1 291.86h3M355.2 291.86h-3" stroke="#333" stroke-width="0.6"/>
<path d="M328.1 262.89h3M355.2 262.89h-3" stroke="#333" stroke-width="0.6"/>
<clipPath id="cp4"><rect x="432.2" y="248.4" width="216.3" height="216.7"/></clipPath>
<g clip-path="url(#cp4)">
<g id="hm4" shape-rendering="crispEdges" transform="translate(432.2 248.4) scale(4.41429 4.42245)">
<rect x="-2" y="-2" width="53" height="53" fill="#000091"/>
<path fill="#870000" d="M2 0h1v1h-1zM5 0h1v1h-1zM8 0h1v1h-1zM10 0h4v1h-4zM18 0h1v1h-1zM20 0h4v1h-4zM26 0h1v1h-1zM32 0h1v1h-1zM38 0h1v1h-1zM40 0h2v1h-2zM43 0h6v1h-6zM1 1h1v1h-1zM4 1h5v1h-5zM11 1h4v1h-4zM16 1h2v1h-2zM19 1h3v1h-3zM23 1h1v1h-1zM25 1h1v1h-1zM34 1h1v1h-1zM37 1h2v1h-2zM40 1h2v1h-2zM43 1h3v1h-3zM47 1h1v1h-1zM4 2h1v1h-1zM8 2h3v1h-3zM14 2h3v1h-3zM18 2h1v1h-1zM20 2h1v1h-1zM23 2h5v1h-5zM29 2h1v1h-1zM37 2h1v1h-1zM39 2h2v1h-2zM45 2h1v1h-1zM48 2h1v1h-1zM0 3h3v1h-3zM5 3h2v1h-2zM8 3h3v1h-3zM14 3h2v1h-2zM18 3h2v1h-2zM21 3h4v1h-4zM27 3h2v1h-2zM32 3h2v1h-2zM35 3h1v1h-1zM37 3h2v1h-2zM40 3h2v1h-2zM48 3h1v1h-1zM0 4h3v1h-3zM6 4h2v1h-2zM13 4h3v1h-3zM18 4h1v1h-1zM21 4h1v1h-1zM26 4h1v1h-1zM30 4h3v1h-3zM34 4h3v1h-3zM40 4h3v1h-3zM47 4h2v1h-2zM0 5h4v1h-4zM7 5h1v1h-1zM14 5h1v1h-1zM19 5h4v1h-4zM26 5h1v1h-1zM29 5h2v1h-2zM32 5h4v1h-4zM37 5h4v1h-4zM43 5h1v1h-1zM45 5h4v1h-4zM3 6h3v1h-3zM11 6h2v1h-2zM22 6h2v1h-2zM30 6h7v1h-7zM38 6h7v1h-7zM0 7h2v1h-2zM5 7h2v1h-2zM8 7h2v1h-2zM11 7h2v1h-2zM14 7h2v1h-2zM19 7h2v1h-2zM23 7h3v1h-3zM27 7h5v1h-5zM33 7h2v1h-2zM40 7h1v1h-1zM3 8h1v1h-1zM5 8h6v1h-6zM12 8h2v1h-2zM15 8h6v1h-6zM22 8h6v1h-6zM33 8h3v1h-3zM38 8h1v1h-1zM41 8h5v1h-5zM48 8h1v1h-1zM5 9h1v1h-1zM8 9h1v1h-1zM11 9h10v1h-10zM24 9h1v1h-1zM28 9h6v1h-6zM35 9h3v1h-3zM39 9h1v1h-1zM43 9h3v1h-3zM47 9h2v1h-2zM0 10h1v1h-1zM2 10h3v1h-3zM11 10h3v1h-3zM15 10h3v1h-3zM22 10h2v1h-2zM28 10h2v1h-2zM31 10h1v1h-1zM33 10h4v1h-4zM42 10h2v1h-2zM47 10h2v1h-2zM0 11h1v1h-1zM4 11h2v1h-2zM8 11h1v1h-1zM11 11h3v1h-3zM16 11h2v1h-2zM23 11h1v1h-1zM25 11h2v1h-2zM31 11h3v1h-3zM39 11h3v1h-3zM47 11h1v1h-1zM7 12h3v1h-3zM16 12h1v1h-1zM19 12h1v1h-1zM26 12h2v1h-2zM30 12h3v1h-3zM39 12h1v1h-1zM41 12h1v1h-1zM46 12h3v1h-3zM1 13h1v1h-1zM8 13h2v1h-2zM12 13h2v1h-2zM17 13h1v1h-1zM22 13h1v1h-1zM26 13h2v1h-2zM32 13h1v1h-1zM40 13h1v1h-1zM46 13h2v1h-2zM1 14h1v1h-1zM6 14h3v1h-3zM12 14h2v1h-2zM16 14h7v1h-7zM24 14h3v1h-3zM36 14h4v1h-4zM44 14h1v1h-1zM46 14h1v1h-1zM1 15h2v1h-2zM4 15h1v1h-1zM6 15h4v1h-4zM14 15h2v1h-2zM18 15h1v1h-1zM26 15h1v1h-1zM28 15h2v1h-2zM36 15h1v1h-1zM38 15h2v1h-2zM44 15h1v1h-1zM48 15h1v1h-1zM1 16h1v1h-1zM4 16h3v1h-3zM8 16h1v1h-1zM14 16h1v1h-1zM18 16h1v1h-1zM26 16h1v1h-1zM31 16h3v1h-3zM36 16h1v1h-1zM39 16h2v1h-2zM48 16h1v1h-1zM0 17h2v1h-2zM6 17h2v1h-2zM11 17h3v1h-3zM16 17h1v1h-1zM18 17h1v1h-1zM26 17h1v1h-1zM31 17h4v1h-4zM39 17h1v1h-1zM41 17h6v1h-6zM48 17h1v1h-1zM4 18h2v1h-2zM8 18h2v1h-2zM14 18h6v1h-6zM22 18h3v1h-3zM26 18h3v1h-3zM31 18h18v1h-18zM1 19h3v1h-3zM8 19h4v1h-4zM13 19h1v1h-1zM15 19h1v1h-1zM17 19h3v1h-3zM22 19h3v1h-3zM26 19h1v1h-1zM28 19h3v1h-3zM34 19h6v1h-6zM42 19h5v1h-5zM0 20h4v1h-4zM6 20h1v1h-1zM12 20h1v1h-1zM15 20h1v1h-1zM17 20h8v1h-8zM26 20h1v1h-1zM29 20h3v1h-3zM34 20h3v1h-3zM39 20h1v1h-1zM44 20h1v1h-1zM0 21h3v1h-3zM6 21h1v1h-1zM8 21h3v1h-3zM12 21h3v1h-3zM16 21h1v1h-1zM18 21h5v1h-5zM27 21h1v1h-1zM29 21h1v1h-1zM34 21h4v1h-4zM39 21h1v1h-1zM43 21h2v1h-2zM47 21h1v1h-1zM0 22h2v1h-2zM5 22h1v1h-1zM15 22h1v1h-1zM21 22h1v1h-1zM23 22h5v1h-5zM29 22h4v1h-4zM35 22h5v1h-5zM41 22h4v1h-4zM2 23h2v1h-2zM5 23h1v1h-1zM7 23h3v1h-3zM11 23h2v1h-2zM14 23h1v1h-1zM16 23h1v1h-1zM20 23h1v1h-1zM27 23h1v1h-1zM30 23h2v1h-2zM33 23h1v1h-1zM36 23h2v1h-2zM44 23h1v1h-1zM2 24h4v1h-4zM7 24h6v1h-6zM20 24h3v1h-3zM25 24h2v1h-2zM28 24h3v1h-3zM32 24h3v1h-3zM36 24h3v1h-3zM45 24h4v1h-4zM5 25h9v1h-9zM16 25h3v1h-3zM21 25h3v1h-3zM30 25h2v1h-2zM33 25h1v1h-1zM36 25h2v1h-2zM45 25h2v1h-2zM5 26h5v1h-5zM12 26h4v1h-4zM19 26h1v1h-1zM21 26h3v1h-3zM30 26h1v1h-1zM36 26h4v1h-4zM41 26h2v1h-2zM46 26h2v1h-2zM0 27h2v1h-2zM4 27h4v1h-4zM9 27h2v1h-2zM14 27h2v1h-2zM18 27h1v1h-1zM21 27h2v1h-2zM35 27h4v1h-4zM44 27h2v1h-2zM47 27h1v1h-1zM0 28h2v1h-2zM3 28h1v1h-1zM7 28h4v1h-4zM13 28h1v1h-1zM24 28h1v1h-1zM28 28h1v1h-1zM36 28h1v1h-1zM38 28h2v1h-2zM42 28h5v1h-5zM0 29h1v1h-1zM9 29h2v1h-2zM12 29h1v1h-1zM14 29h1v1h-1zM17 29h4v1h-4zM25 29h1v1h-1zM27 29h5v1h-5zM33 29h3v1h-3zM39 29h2v1h-2zM42 29h2v1h-2zM45 29h4v1h-4zM7 30h1v1h-1zM10 30h1v1h-1zM14 30h1v1h-1zM18 30h1v1h-1zM21 30h5v1h-5zM28 30h2v1h-2zM32 30h4v1h-4zM39 30h2v1h-2zM42 30h1v1h-1zM1 31h2v1h-2zM5 31h1v1h-1zM7 31h5v1h-5zM13 31h2v1h-2zM21 31h8v1h-8zM30 31h1v1h-1zM32 31h7v1h-7zM44 31h2v1h-2zM47 31h2v1h-2zM0 32h3v1h-3zM6 32h9v1h-9zM22 32h2v1h-2zM25 32h1v1h-1zM32 32h5v1h-5zM39 32h2v1h-2zM44 32h1v1h-1zM46 32h2v1h-2zM0 33h2v1h-2zM7 33h1v1h-1zM11 33h1v1h-1zM13 33h3v1h-3zM20 33h1v1h-1zM22 33h1v1h-1zM25 33h1v1h-1zM27 33h1v1h-1zM30 33h1v1h-1zM33 33h1v1h-1zM36 33h5v1h-5zM44 33h2v1h-2zM0 34h2v1h-2zM5 34h2v1h-2zM8 34h5v1h-5zM14 34h3v1h-3zM20 34h2v1h-2zM24 34h5v1h-5zM30 34h1v1h-1zM33 34h1v1h-1zM35 34h2v1h-2zM38 34h2v1h-2zM43 34h2v1h-2zM0 35h7v1h-7zM10 35h2v1h-2zM13 35h1v1h-1zM21 35h2v1h-2zM29 35h1v1h-1zM31 35h2v1h-2zM43 35h1v1h-1zM0 36h3v1h-3zM4 36h4v1h-4zM11 36h4v1h-4zM16 36h8v1h-8zM25 36h1v1h-1zM38 36h2v1h-2zM41 36h3v1h-3zM0 37h2v1h-2zM8 37h1v1h-1zM11 37h2v1h-2zM18 37h2v1h-2zM29 37h1v1h-1zM32 37h2v1h-2zM38 37h11v1h-11zM1 38h2v1h-2zM8 38h3v1h-3zM13 38h1v1h-1zM16 38h4v1h-4zM21 38h2v1h-2zM34 38h1v1h-1zM36 38h2v1h-2zM39 38h1v1h-1zM43 38h3v1h-3zM48 38h1v1h-1zM0 39h1v1h-1zM6 39h1v1h-1zM9 39h1v1h-1zM12 39h1v1h-1zM17 39h2v1h-2zM20 39h6v1h-6zM27 39h1v1h-1zM31 39h6v1h-6zM40 39h7v1h-7zM0 40h4v1h-4zM11 40h1v1h-1zM20 40h2v1h-2zM23 40h2v1h-2zM26 40h3v1h-3zM30 40h7v1h-7zM40 40h1v1h-1zM42 40h1v1h-1zM44 40h4v1h-4zM0 41h1v1h-1zM7 41h2v1h-2zM10 41h2v1h-2zM16 41h2v1h-2zM19 41h3v1h-3zM25 41h4v1h-4zM30 41h3v1h-3zM34 41h2v1h-2zM37 41h1v1h-1zM41 41h1v1h-1zM43 41h1v1h-1zM1 42h1v1h-1zM5 42h1v1h-1zM8 42h1v1h-1zM17 42h4v1h-4zM25 42h4v1h-4zM31 42h4v1h-4zM36 42h2v1h-2zM42 42h5v1h-5zM15 43h2v1h-2zM18 43h3v1h-3zM23 43h1v1h-1zM25 43h7v1h-7zM33 43h9v1h-9zM44 43h1v1h-1zM46 43h1v1h-1zM24 44h8v1h-8zM33 44h9v1h-9zM43 44h2v1h-2zM48 44h1v1h-1zM0 45h2v1h-2zM4 45h2v1h-2zM8 45h2v1h-2zM12 45h3v1h-3zM23 45h1v1h-1zM26 45h2v1h-2zM32 45h5v1h-5zM39 45h6v1h-6zM0 46h3v1h-3zM4 46h4v1h-4zM10 46h2v1h-2zM19 46h2v1h-2zM24 46h7v1h-7zM32 46h4v1h-4zM38 46h1v1h-1zM40 46h7v1h-7zM3 47h2v1h-2zM7 47h1v1h-1zM11 47h1v1h-1zM14 47h1v1h-1zM18 47h2v1h-2zM21 47h4v1h-4zM30 47h1v1h-1zM41 47h6v1h-6zM0 48h1v1h-1zM9 48h3v1h-3zM13 48h1v1h-1zM17 48h2v1h-2zM20 48h3v1h-3zM28 48h2v1h-2zM33 48h2v1h-2zM36 48h4v1h-4zM44 48h1v1h-1zM47 48h2v1h-2z"/>
</g>
</g>
<clipPath id="bd4"><rect x="432.2" y="285" width="216.3" height="50"/></clipPath>
<g clip-path="url(#bd4)"><g class="bb"><use href="#hm4"/></g></g>
<rect x="432.2" y="248.4" width="216.3" height="216.7" fill="none" stroke="#445" stroke-opacity="0.55" stroke-width="0.8"/>
<clipPath id="cp5"><rect x="89" y="487" width="219.5" height="222.4"/></clipPath>
<g clip-path="url(#cp5)">
<g id="hm5" shape-rendering="crispEdges" transform="translate(89 487) scale(4.39000 4.44800)">
<rect x="-2" y="-2" width="54" height="54" fill="#000cff"/>
<path fill="#0000e4" d="M26 0h1v1h-1zM28 0h1v1h-1zM30 0h1v1h-1zM42 0h1v1h-1zM48 0h1v1h-1zM14 1h1v1h-1zM27 1h1v1h-1zM48 1h1v1h-1zM5 2h1v1h-1zM16 2h3v1h-3zM23 2h1v1h-1zM42 2h2v1h-2zM48 3h1v1h-1zM14 4h1v1h-1zM31 4h1v1h-1zM33 4h1v1h-1zM37 4h1v1h-1zM40 4h1v1h-1zM45 4h1v1h-1zM49 4h1v1h-1zM11 5h2v1h-2zM15 5h1v1h-1zM20 5h2v1h-2zM25 5h1v1h-1zM29 5h1v1h-1zM40 5h1v1h-1zM3 6h2v1h-2zM31 6h1v1h-1zM45 6h1v1h-1zM6 7h1v1h-1zM25 7h1v1h-1zM45 7h1v1h-1zM2 8h1v1h-1zM4 8h1v1h-1zM14 8h1v1h-1zM18 8h1v1h-1zM26 8h1v1h-1zM33 8h1v1h-1zM35 8h1v1h-1zM38 8h1v1h-1zM44 8h1v1h-1zM13 9h1v1h-1zM38 9h1v1h-1zM48 9h1v1h-1zM29 10h1v1h-1zM41 10h1v1h-1zM23 11h1v1h-1zM43 11h1v1h-1zM15 12h1v1h-1zM33 12h1v1h-1zM43 12h1v1h-1zM0 13h1v1h-1zM6 13h1v1h-1zM33 13h1v1h-1zM37 13h1v1h-1zM47 13h1v1h-1zM32 14h1v1h-1zM47 14h2v1h-2zM8 15h1v1h-1zM15 15h1v1h-1zM25 15h1v1h-1zM28 15h1v1h-1zM34 15h1v1h-1zM41 15h1v1h-1zM1 16h1v1h-1zM5 17h1v1h-1zM33 17h1v1h-1zM35 17h1v1h-1zM43 17h1v1h-1zM24 18h1v1h-1zM29 18h1v1h-1zM23 19h1v1h-1zM26 19h1v1h-1zM42 19h1v1h-1zM35 21h1v1h-1zM45 21h1v1h-1zM21 22h1v1h-1zM24 22h1v1h-1zM19 23h1v1h-1zM24 24h1v1h-1zM35 24h1v1h-1zM39 24h1v1h-1zM42 24h1v1h-1zM3 25h1v1h-1zM15 25h1v1h-1zM24 25h1v1h-1zM26 25h1v1h-1zM32 25h1v1h-1zM42 25h1v1h-1zM14 26h1v1h-1zM30 26h1v1h-1zM33 26h1v1h-1zM26 27h1v1h-1zM38 27h1v1h-1zM47 27h1v1h-1zM13 28h1v1h-1zM15 28h1v1h-1zM33 28h1v1h-1zM35 28h1v1h-1zM49 28h1v1h-1zM9 29h1v1h-1zM36 29h1v1h-1zM1 30h1v1h-1zM14 30h1v1h-1zM32 30h1v1h-1zM34 30h2v1h-2zM39 30h1v1h-1zM48 30h1v1h-1zM16 31h1v1h-1zM20 31h1v1h-1zM37 31h1v1h-1zM42 31h1v1h-1zM3 32h1v1h-1zM16 32h2v1h-2zM22 32h1v1h-1zM28 32h1v1h-1zM33 32h2v1h-2zM14 33h1v1h-1zM46 33h1v1h-1zM34 34h1v1h-1zM45 34h1v1h-1zM23 35h1v1h-1zM31 36h1v1h-1zM37 36h1v1h-1zM43 36h1v1h-1zM5 37h1v1h-1zM13 37h1v1h-1zM20 37h1v1h-1zM23 37h1v1h-1zM49 37h1v1h-1zM18 38h1v1h-1zM23 38h1v1h-1zM28 39h1v1h-1zM33 39h1v1h-1zM38 39h1v1h-1zM9 40h1v1h-1zM14 40h1v1h-1zM22 40h2v1h-2zM46 40h1v1h-1zM8 41h1v1h-1zM10 41h2v1h-2zM19 41h2v1h-2zM23 41h1v1h-1zM29 41h1v1h-1zM2 42h1v1h-1zM33 42h1v1h-1zM33 43h1v1h-1zM35 43h1v1h-1zM15 44h2v1h-2zM31 44h1v1h-1zM1 45h2v1h-2zM16 45h1v1h-1zM34 45h1v1h-1zM39 45h1v1h-1zM41 45h1v1h-1zM36 46h2v1h-2zM23 47h1v1h-1zM35 47h1v1h-1zM47 47h1v1h-1zM49 47h1v1h-1zM6 48h2v1h-2zM21 48h1v1h-1zM26 48h1v1h-1zM31 48h1v1h-1zM24 49h1v1h-1z"/>
<path fill="#00d3ff" d="M9 4h1v1h-1zM27 4h1v1h-1zM46 9h1v1h-1zM11 12h1v1h-1zM25 16h1v1h-1zM46 16h1v1h-1zM6 19h1v1h-1zM45 19h1v1h-1zM21 21h1v1h-1zM22 22h1v1h-1zM40 22h1v1h-1zM8 23h1v1h-1zM39 23h1v1h-1zM8 24h1v1h-1zM43 26h1v1h-1zM49 26h1v1h-1zM18 27h1v1h-1zM24 29h1v1h-1zM24 32h1v1h-1zM5 33h1v1h-1zM42 34h1v1h-1zM16 36h2v1h-2zM32 36h1v1h-1zM34 36h1v1h-1zM43 37h1v1h-1zM41 38h1v1h-1zM21 39h1v1h-1zM35 40h1v1h-1zM2 41h1v1h-1zM22 41h1v1h-1zM30 41h1v1h-1zM36 44h1v1h-1zM33 46h1v1h-1zM15 47h1v1h-1zM3 49h1v1h-1zM8 49h1v1h-1zM40 49h1v1h-1z"/>
<path fill="#00faff" d="M47 0h1v1h-1zM31 1h1v1h-1zM6 2h1v1h-1zM27 2h1v1h-1zM3 3h1v1h-1zM2 5h1v1h-1zM47 5h1v1h-1zM0 7h1v1h-1zM12 7h1v1h-1zM32 7h1v1h-1zM5 8h1v1h-1zM13 8h1v1h-1zM17 9h1v1h-1zM13 11h1v1h-1zM34 11h1v1h-1zM39 11h1v1h-1zM27 12h1v1h-1zM15 13h1v1h-1zM32 13h1v1h-1zM19 14h1v1h-1zM7 15h1v1h-1zM24 15h1v1h-1zM45 15h1v1h-1zM8 16h1v1h-1zM19 16h1v1h-1zM24 16h1v1h-1zM37 16h1v1h-1zM41 16h1v1h-1zM49 16h1v1h-1zM18 17h1v1h-1zM42 17h1v1h-1zM46 17h1v1h-1zM21 18h1v1h-1zM36 18h1v1h-1zM45 18h1v1h-1zM29 20h1v1h-1zM32 20h1v1h-1zM12 21h1v1h-1zM32 21h1v1h-1zM12 22h1v1h-1zM35 22h1v1h-1zM26 23h1v1h-1zM31 24h1v1h-1zM7 28h1v1h-1zM27 28h1v1h-1zM4 29h1v1h-1zM25 29h1v1h-1zM27 29h1v1h-1zM30 30h1v1h-1zM25 33h1v1h-1zM28 33h1v1h-1zM31 33h1v1h-1zM38 33h1v1h-1zM39 34h1v1h-1zM37 35h2v1h-2zM21 37h1v1h-1zM1 38h1v1h-1zM21 38h1v1h-1zM39 38h2v1h-2zM16 39h1v1h-1zM30 39h1v1h-1zM2 40h1v1h-1zM29 40h1v1h-1zM25 42h1v1h-1zM10 43h1v1h-1zM23 43h1v1h-1zM25 43h1v1h-1zM10 44h1v1h-1zM0 45h1v1h-1zM33 45h1v1h-1zM40 47h1v1h-1zM8 48h1v1h-1zM17 49h2v1h-2zM34 49h2v1h-2z"/>
<path fill="#23ffdc" d="M30 1h1v1h-1zM46 5h1v1h-1zM7 8h1v1h-1zM41 14h1v1h-1zM23 18h1v1h-1zM29 21h1v1h-1zM8 25h1v1h-1zM19 26h1v1h-1zM45 29h1v1h-1zM0 35h1v1h-1zM43 39h1v1h-1zM24 42h1v1h-1zM42 43h1v1h-1zM5 44h1v1h-1zM11 45h1v1h-1zM1 46h1v1h-1z"/>
<path fill="#72ff8d" d="M40 0h1v1h-1zM46 0h1v1h-1zM4 1h1v1h-1zM16 1h1v1h-1zM28 1h2v1h-2zM33 2h1v1h-1zM2 3h1v1h-1zM33 3h1v1h-1zM14 5h1v1h-1zM44 5h1v1h-1zM37 6h1v1h-1zM2 9h1v1h-1zM23 9h1v1h-1zM36 10h2v1h-2zM15 11h1v1h-1zM20 11h1v1h-1zM24 12h1v1h-1zM48 12h1v1h-1zM25 13h1v1h-1zM35 13h1v1h-1zM38 14h1v1h-1zM18 15h1v1h-1zM35 15h1v1h-1zM26 16h2v1h-2zM45 16h1v1h-1zM48 16h1v1h-1zM3 17h1v1h-1zM17 17h1v1h-1zM3 18h1v1h-1zM12 18h1v1h-1zM30 18h1v1h-1zM41 18h1v1h-1zM3 19h1v1h-1zM17 19h2v1h-2zM5 20h1v1h-1zM9 20h1v1h-1zM14 20h1v1h-1zM45 20h1v1h-1zM14 21h1v1h-1zM18 22h1v1h-1zM47 22h1v1h-1zM16 23h1v1h-1zM2 24h1v1h-1zM9 24h1v1h-1zM28 24h1v1h-1zM9 25h1v1h-1zM44 25h1v1h-1zM1 26h1v1h-1zM22 27h1v1h-1zM27 27h1v1h-1zM33 27h1v1h-1zM46 27h1v1h-1zM8 28h1v1h-1zM19 28h1v1h-1zM43 28h1v1h-1zM15 29h2v1h-2zM19 29h1v1h-1zM49 29h1v1h-1zM19 30h1v1h-1zM5 32h1v1h-1zM9 32h1v1h-1zM48 32h1v1h-1zM7 33h1v1h-1zM48 33h1v1h-1zM18 34h4v1h-4zM28 34h1v1h-1zM1 35h1v1h-1zM6 35h1v1h-1zM28 37h1v1h-1zM48 37h1v1h-1zM32 39h1v1h-1zM37 39h1v1h-1zM28 40h1v1h-1zM16 41h1v1h-1zM6 42h1v1h-1zM16 42h1v1h-1zM26 44h1v1h-1zM38 44h1v1h-1zM14 45h1v1h-1zM45 45h2v1h-2zM28 46h1v1h-1zM42 46h1v1h-1zM46 46h1v1h-1zM18 47h1v1h-1zM28 47h1v1h-1zM44 47h1v1h-1zM3 48h1v1h-1zM42 48h1v1h-1zM0 49h1v1h-1zM5 49h1v1h-1zM12 49h1v1h-1zM30 49h1v1h-1zM39 49h1v1h-1z"/>
<path fill="#9aff65" d="M32 1h1v1h-1zM38 1h1v1h-1zM10 2h1v1h-1zM21 3h1v1h-1zM15 4h2v1h-2zM30 4h1v1h-1zM12 6h1v1h-1zM49 6h1v1h-1zM26 7h1v1h-1zM39 7h2v1h-2zM1 9h1v1h-1zM3 9h2v1h-2zM16 9h1v1h-1zM30 9h1v1h-1zM13 10h1v1h-1zM21 11h1v1h-1zM36 11h1v1h-1zM44 11h1v1h-1zM22 12h1v1h-1zM32 12h1v1h-1zM5 13h1v1h-1zM24 13h1v1h-1zM31 13h1v1h-1zM34 13h1v1h-1zM48 13h1v1h-1zM42 14h1v1h-1zM2 17h1v1h-1zM19 17h1v1h-1zM13 18h1v1h-1zM4 19h1v1h-1zM30 19h1v1h-1zM3 20h1v1h-1zM16 20h2v1h-2zM24 20h2v1h-2zM42 20h1v1h-1zM49 20h1v1h-1zM9 21h1v1h-1zM13 21h1v1h-1zM37 21h1v1h-1zM49 21h1v1h-1zM2 25h1v1h-1zM17 25h2v1h-2zM28 25h1v1h-1zM45 25h1v1h-1zM48 26h1v1h-1zM5 28h1v1h-1zM38 28h1v1h-1zM33 29h1v1h-1zM15 30h1v1h-1zM23 30h1v1h-1zM44 31h1v1h-1zM48 31h1v1h-1zM44 32h1v1h-1zM8 33h1v1h-1zM13 33h1v1h-1zM2 34h1v1h-1zM48 34h1v1h-1zM35 35h1v1h-1zM1 36h1v1h-1zM15 36h1v1h-1zM44 38h1v1h-1zM15 41h1v1h-1zM31 41h1v1h-1zM43 41h1v1h-1zM43 42h1v1h-1zM14 44h1v1h-1zM13 45h1v1h-1zM30 45h1v1h-1zM27 46h1v1h-1zM8 47h1v1h-1zM18 48h1v1h-1zM4 49h1v1h-1z"/>
<path fill="#e9ff16" d="M8 0h1v1h-1zM24 0h1v1h-1zM31 0h1v1h-1zM23 1h1v1h-1zM43 1h1v1h-1zM11 2h1v1h-1zM46 2h1v1h-1zM19 3h2v1h-2zM39 3h1v1h-1zM0 4h1v1h-1zM39 4h1v1h-1zM33 5h1v1h-1zM35 5h1v1h-1zM38 5h2v1h-2zM48 5h1v1h-1zM34 6h1v1h-1zM44 6h1v1h-1zM16 7h1v1h-1zM19 7h1v1h-1zM22 7h1v1h-1zM29 7h1v1h-1zM20 8h1v1h-1zM42 8h1v1h-1zM21 9h1v1h-1zM35 9h1v1h-1zM39 9h1v1h-1zM3 10h1v1h-1zM28 10h1v1h-1zM0 11h1v1h-1zM35 12h1v1h-1zM12 13h1v1h-1zM44 13h1v1h-1zM14 14h1v1h-1zM25 14h1v1h-1zM39 15h1v1h-1zM47 15h2v1h-2zM38 16h1v1h-1zM38 17h2v1h-2zM44 17h2v1h-2zM47 17h1v1h-1zM18 18h1v1h-1zM47 18h2v1h-2zM37 19h1v1h-1zM28 20h1v1h-1zM3 21h1v1h-1zM31 21h1v1h-1zM9 23h1v1h-1zM33 23h1v1h-1zM47 23h1v1h-1zM41 24h1v1h-1zM41 25h1v1h-1zM11 26h1v1h-1zM45 27h1v1h-1zM3 28h1v1h-1zM17 28h2v1h-2zM42 28h1v1h-1zM17 29h2v1h-2zM6 30h1v1h-1zM8 31h1v1h-1zM24 33h1v1h-1zM39 33h1v1h-1zM25 34h1v1h-1zM11 35h1v1h-1zM13 35h1v1h-1zM45 35h2v1h-2zM11 36h2v1h-2zM23 36h1v1h-1zM38 36h1v1h-1zM44 36h3v1h-3zM24 37h2v1h-2zM31 37h1v1h-1zM4 38h1v1h-1zM4 39h1v1h-1zM15 39h1v1h-1zM46 39h1v1h-1zM49 39h1v1h-1zM7 40h1v1h-1zM40 40h1v1h-1zM48 40h1v1h-1zM0 41h1v1h-1zM21 41h1v1h-1zM37 41h1v1h-1zM15 42h1v1h-1zM22 42h1v1h-1zM26 42h1v1h-1zM37 42h1v1h-1zM37 44h1v1h-1zM39 44h1v1h-1zM44 44h1v1h-1zM47 44h1v1h-1zM20 45h1v1h-1zM36 45h1v1h-1zM44 45h1v1h-1zM16 46h1v1h-1zM30 46h1v1h-1zM43 46h1v1h-1zM12 47h1v1h-1zM16 47h1v1h-1zM12 48h1v1h-1zM11 49h1v1h-1z"/>
<path fill="#ffed00" d="M16 0h1v1h-1zM25 0h1v1h-1zM41 0h1v1h-1zM17 1h1v1h-1zM24 1h2v1h-2zM19 2h1v1h-1zM24 2h2v1h-2zM45 2h1v1h-1zM10 3h1v1h-1zM40 3h1v1h-1zM26 4h1v1h-1zM36 5h1v1h-1zM49 5h1v1h-1zM19 6h1v1h-1zM22 6h1v1h-1zM8 8h1v1h-1zM16 8h1v1h-1zM27 8h1v1h-1zM41 8h1v1h-1zM27 9h1v1h-1zM31 9h1v1h-1zM37 9h1v1h-1zM49 9h1v1h-1zM9 10h1v1h-1zM31 10h1v1h-1zM49 10h1v1h-1zM10 11h1v1h-1zM7 12h1v1h-1zM9 12h2v1h-2zM25 12h1v1h-1zM38 12h1v1h-1zM1 13h1v1h-1zM1 14h1v1h-1zM24 14h1v1h-1zM30 14h1v1h-1zM36 14h1v1h-1zM14 15h1v1h-1zM17 15h1v1h-1zM38 15h1v1h-1zM46 15h1v1h-1zM21 16h1v1h-1zM16 17h1v1h-1zM21 17h1v1h-1zM14 19h2v1h-2zM33 19h2v1h-2zM13 20h1v1h-1zM19 20h1v1h-1zM44 20h1v1h-1zM4 21h1v1h-1zM30 21h1v1h-1zM47 21h1v1h-1zM48 22h1v1h-1zM6 23h1v1h-1zM47 24h1v1h-1zM10 25h1v1h-1zM27 25h1v1h-1zM31 25h1v1h-1zM3 26h1v1h-1zM10 26h1v1h-1zM26 26h1v1h-1zM3 27h1v1h-1zM6 27h1v1h-1zM9 27h1v1h-1zM44 27h1v1h-1zM20 28h1v1h-1zM34 28h1v1h-1zM37 28h1v1h-1zM40 28h1v1h-1zM46 29h1v1h-1zM17 30h2v1h-2zM19 31h1v1h-1zM29 33h1v1h-1zM1 34h1v1h-1zM15 34h1v1h-1zM43 34h1v1h-1zM2 35h1v1h-1zM12 35h1v1h-1zM30 36h1v1h-1zM17 38h1v1h-1zM20 38h1v1h-1zM27 39h1v1h-1zM36 39h1v1h-1zM13 40h1v1h-1zM27 40h1v1h-1zM49 40h1v1h-1zM1 41h1v1h-1zM18 41h1v1h-1zM40 41h1v1h-1zM29 42h1v1h-1zM44 42h1v1h-1zM26 43h1v1h-1zM30 43h1v1h-1zM41 43h1v1h-1zM6 44h1v1h-1zM12 44h1v1h-1zM43 44h1v1h-1zM48 44h1v1h-1zM37 45h1v1h-1zM43 45h1v1h-1zM44 46h1v1h-1zM49 46h1v1h-1zM3 47h1v1h-1zM11 48h1v1h-1zM14 48h1v1h-1zM34 48h1v1h-1zM43 48h1v1h-1zM14 49h1v1h-1z"/>
<path fill="#ff9e00" d="M7 0h1v1h-1zM42 1h1v1h-1zM7 2h1v1h-1zM9 2h1v1h-1zM20 2h1v1h-1zM11 3h1v1h-1zM43 4h1v1h-1zM32 5h1v1h-1zM45 5h1v1h-1zM21 6h1v1h-1zM33 6h1v1h-1zM41 6h1v1h-1zM41 7h1v1h-1zM8 9h1v1h-1zM20 9h1v1h-1zM41 9h2v1h-2zM35 10h1v1h-1zM16 11h1v1h-1zM13 13h1v1h-1zM41 13h1v1h-1zM36 15h2v1h-2zM7 16h1v1h-1zM14 16h1v1h-1zM18 16h1v1h-1zM35 16h1v1h-1zM42 16h1v1h-1zM22 18h1v1h-1zM32 18h1v1h-1zM40 18h1v1h-1zM46 18h1v1h-1zM5 19h1v1h-1zM10 19h1v1h-1zM32 19h1v1h-1zM30 20h1v1h-1zM38 20h1v1h-1zM41 20h1v1h-1zM47 20h1v1h-1zM23 21h1v1h-1zM41 21h1v1h-1zM46 21h1v1h-1zM17 22h1v1h-1zM41 22h1v1h-1zM45 22h2v1h-2zM49 22h1v1h-1zM29 25h2v1h-2zM2 26h1v1h-1zM28 26h1v1h-1zM28 27h1v1h-1zM36 28h1v1h-1zM39 28h1v1h-1zM41 28h1v1h-1zM45 28h1v1h-1zM28 29h1v1h-1zM3 30h1v1h-1zM27 30h1v1h-1zM29 30h1v1h-1zM2 31h1v1h-1zM5 31h1v1h-1zM26 31h1v1h-1zM31 31h2v1h-2zM49 31h1v1h-1zM7 32h1v1h-1zM30 32h1v1h-1zM39 32h2v1h-2zM37 33h1v1h-1zM13 34h1v1h-1zM36 34h1v1h-1zM38 34h1v1h-1zM3 35h1v1h-1zM17 35h1v1h-1zM21 35h1v1h-1zM40 35h1v1h-1zM44 35h1v1h-1zM24 36h1v1h-1zM32 37h1v1h-1zM37 37h1v1h-1zM25 38h1v1h-1zM37 38h1v1h-1zM5 39h3v1h-3zM26 39h1v1h-1zM41 39h2v1h-2zM48 39h1v1h-1zM5 40h2v1h-2zM41 40h1v1h-1zM3 41h1v1h-1zM24 41h1v1h-1zM41 41h1v1h-1zM0 42h1v1h-1zM13 42h1v1h-1zM41 42h1v1h-1zM45 42h1v1h-1zM24 43h1v1h-1zM29 43h1v1h-1zM25 44h1v1h-1zM10 45h1v1h-1zM20 46h2v1h-2zM45 46h1v1h-1zM48 46h1v1h-1zM11 47h1v1h-1zM10 48h1v1h-1zM13 48h1v1h-1zM2 49h1v1h-1zM16 49h1v1h-1z"/>
<path fill="#ff7600" d="M38 0h1v1h-1zM26 1h1v1h-1zM13 2h1v1h-1zM30 2h1v1h-1zM41 2h1v1h-1zM44 2h1v1h-1zM31 3h2v1h-2zM42 4h1v1h-1zM5 5h1v1h-1zM30 7h1v1h-1zM6 8h1v1h-1zM32 9h1v1h-1zM40 9h1v1h-1zM43 9h2v1h-2zM39 10h2v1h-2zM22 11h1v1h-1zM37 11h2v1h-2zM49 11h1v1h-1zM37 12h1v1h-1zM49 12h1v1h-1zM9 13h1v1h-1zM6 14h1v1h-1zM22 14h1v1h-1zM26 14h1v1h-1zM49 15h1v1h-1zM34 16h1v1h-1zM48 17h1v1h-1zM0 18h1v1h-1zM14 18h1v1h-1zM19 18h1v1h-1zM34 18h1v1h-1zM49 18h1v1h-1zM16 19h1v1h-1zM29 19h1v1h-1zM36 19h1v1h-1zM18 20h1v1h-1zM33 20h1v1h-1zM15 21h2v1h-2zM22 21h1v1h-1zM40 21h1v1h-1zM7 23h1v1h-1zM17 23h1v1h-1zM27 23h1v1h-1zM30 23h1v1h-1zM38 23h1v1h-1zM40 23h1v1h-1zM27 24h1v1h-1zM29 24h1v1h-1zM44 26h1v1h-1zM7 27h1v1h-1zM17 27h1v1h-1zM20 27h1v1h-1zM32 27h1v1h-1zM6 28h1v1h-1zM24 28h1v1h-1zM31 28h1v1h-1zM44 28h1v1h-1zM46 28h1v1h-1zM7 29h1v1h-1zM35 29h1v1h-1zM47 29h2v1h-2zM5 30h1v1h-1zM7 30h1v1h-1zM16 30h1v1h-1zM24 30h1v1h-1zM4 31h1v1h-1zM25 31h1v1h-1zM30 31h1v1h-1zM39 31h2v1h-2zM6 32h1v1h-1zM25 32h1v1h-1zM31 32h1v1h-1zM10 34h1v1h-1zM17 34h1v1h-1zM37 34h1v1h-1zM44 34h1v1h-1zM36 35h1v1h-1zM41 35h1v1h-1zM18 36h1v1h-1zM33 36h1v1h-1zM39 36h1v1h-1zM38 37h1v1h-1zM42 37h1v1h-1zM26 38h1v1h-1zM38 38h1v1h-1zM49 38h1v1h-1zM39 39h1v1h-1zM47 40h1v1h-1zM13 41h1v1h-1zM39 41h1v1h-1zM23 42h1v1h-1zM30 42h1v1h-1zM46 42h1v1h-1zM21 43h1v1h-1zM45 43h1v1h-1zM48 43h1v1h-1zM7 44h1v1h-1zM11 44h1v1h-1zM21 44h1v1h-1zM35 44h1v1h-1zM45 44h1v1h-1zM49 44h1v1h-1zM32 45h1v1h-1zM0 46h1v1h-1zM15 46h1v1h-1zM29 46h1v1h-1zM13 47h1v1h-1zM16 48h1v1h-1zM10 49h1v1h-1zM13 49h1v1h-1zM45 49h2v1h-2z"/>
<path fill="#ff2700" d="M41 1h1v1h-1zM1 4h3v1h-3zM28 4h1v1h-1zM37 5h1v1h-1zM49 7h1v1h-1zM5 9h2v1h-2zM6 11h1v1h-1zM18 11h1v1h-1zM43 13h1v1h-1zM37 14h1v1h-1zM20 16h1v1h-1zM44 16h1v1h-1zM41 17h1v1h-1zM9 19h1v1h-1zM46 20h1v1h-1zM39 22h1v1h-1zM31 23h1v1h-1zM30 24h1v1h-1zM27 26h1v1h-1zM45 26h1v1h-1zM31 27h1v1h-1zM36 27h2v1h-2zM34 29h1v1h-1zM28 30h1v1h-1zM3 31h1v1h-1zM24 31h1v1h-1zM30 33h1v1h-1zM43 35h1v1h-1zM9 36h1v1h-1zM36 38h1v1h-1zM49 42h1v1h-1zM49 43h1v1h-1zM31 45h1v1h-1zM1 49h1v1h-1zM7 49h1v1h-1z"/>
<path fill="#fe0000" d="M40 1h1v1h-1zM12 2h1v1h-1zM26 2h1v1h-1zM31 2h1v1h-1zM40 2h1v1h-1zM30 3h1v1h-1zM29 4h1v1h-1zM42 6h1v1h-1zM7 9h1v1h-1zM4 10h1v1h-1zM38 10h1v1h-1zM4 11h2v1h-2zM7 11h1v1h-1zM19 11h1v1h-1zM42 13h1v1h-1zM23 14h1v1h-1zM43 16h1v1h-1zM35 18h1v1h-1zM38 21h2v1h-2zM38 22h1v1h-1zM4 28h1v1h-1zM4 30h1v1h-1zM42 35h1v1h-1zM8 36h1v1h-1zM10 36h1v1h-1zM35 38h1v1h-1zM40 39h1v1h-1zM38 41h1v1h-1zM46 43h1v1h-1zM15 48h1v1h-1zM6 49h1v1h-1zM15 49h1v1h-1z"/>
<path fill="#d60000" d="M17 11h1v1h-1zM16 22h1v1h-1z"/>
</g>
<g class="hb" opacity="0.4"><use href="#hm5"/></g>
</g>
<rect x="89" y="487" width="219.5" height="222.4" fill="none" stroke="#445" stroke-opacity="0.55" stroke-width="0.8"/>
<rect x="329.1" y="488.8" width="27.9" height="220.2" fill="url(#jet)" stroke="#555" stroke-opacity="0.5" stroke-width="0.7"/>
<path d="M329.1 709h3M357 709h-3" stroke="#333" stroke-width="0.6"/>
<path d="M329.1 679.64h3M357 679.64h-3" stroke="#333" stroke-width="0.6"/>
<path d="M329.1 650.28h3M357 650.28h-3" stroke="#333" stroke-width="0.6"/>
<path d="M329.1 620.92h3M357 620.92h-3" stroke="#333" stroke-width="0.6"/>
<path d="M329.1 591.56h3M357 591.56h-3" stroke="#333" stroke-width="0.6"/>
<path d="M329.1 562.2h3M357 562.2h-3" stroke="#333" stroke-width="0.6"/>
<path d="M329.1 532.84h3M357 532.84h-3" stroke="#333" stroke-width="0.6"/>
<path d="M329.1 503.48h3M357 503.48h-3" stroke="#333" stroke-width="0.6"/>
<clipPath id="cp6"><rect x="431.6" y="490.3" width="217.9" height="218.5"/></clipPath>
<g clip-path="url(#cp6)">
<g id="hm6" shape-rendering="crispEdges" transform="translate(431.6 490.3) scale(4.35800 4.37000)">
<rect x="-2" y="-2" width="54" height="54" fill="#000091"/>
<path fill="#870000" d="M7 0h1v1h-1zM38 0h1v1h-1zM26 1h1v1h-1zM40 1h3v1h-3zM7 2h1v1h-1zM9 2h1v1h-1zM12 2h2v1h-2zM20 2h1v1h-1zM26 2h1v1h-1zM30 2h2v1h-2zM40 2h2v1h-2zM44 2h1v1h-1zM11 3h1v1h-1zM30 3h3v1h-3zM1 4h3v1h-3zM28 4h2v1h-2zM42 4h2v1h-2zM5 5h1v1h-1zM32 5h1v1h-1zM37 5h1v1h-1zM45 5h1v1h-1zM21 6h1v1h-1zM33 6h1v1h-1zM41 6h2v1h-2zM30 7h1v1h-1zM41 7h1v1h-1zM49 7h1v1h-1zM6 8h1v1h-1zM5 9h4v1h-4zM20 9h1v1h-1zM32 9h1v1h-1zM40 9h5v1h-5zM4 10h1v1h-1zM35 10h1v1h-1zM38 10h3v1h-3zM4 11h4v1h-4zM16 11h4v1h-4zM22 11h1v1h-1zM37 11h2v1h-2zM49 11h1v1h-1zM37 12h1v1h-1zM49 12h1v1h-1zM9 13h1v1h-1zM13 13h1v1h-1zM41 13h3v1h-3zM6 14h1v1h-1zM22 14h2v1h-2zM26 14h1v1h-1zM37 14h1v1h-1zM36 15h2v1h-2zM49 15h1v1h-1zM7 16h1v1h-1zM14 16h1v1h-1zM18 16h1v1h-1zM20 16h1v1h-1zM34 16h2v1h-2zM42 16h3v1h-3zM41 17h1v1h-1zM48 17h1v1h-1zM0 18h1v1h-1zM14 18h1v1h-1zM19 18h1v1h-1zM22 18h1v1h-1zM32 18h1v1h-1zM34 18h2v1h-2zM40 18h1v1h-1zM46 18h1v1h-1zM49 18h1v1h-1zM5 19h1v1h-1zM9 19h2v1h-2zM16 19h1v1h-1zM29 19h1v1h-1zM32 19h1v1h-1zM36 19h1v1h-1zM18 20h1v1h-1zM30 20h1v1h-1zM33 20h1v1h-1zM38 20h1v1h-1zM41 20h1v1h-1zM46 20h2v1h-2zM15 21h2v1h-2zM22 21h2v1h-2zM38 21h4v1h-4zM46 21h1v1h-1zM16 22h2v1h-2zM38 22h2v1h-2zM41 22h1v1h-1zM45 22h2v1h-2zM49 22h1v1h-1zM7 23h1v1h-1zM17 23h1v1h-1zM27 23h1v1h-1zM30 23h2v1h-2zM38 23h1v1h-1zM40 23h1v1h-1zM27 24h1v1h-1zM29 24h2v1h-2zM29 25h2v1h-2zM2 26h1v1h-1zM27 26h2v1h-2zM44 26h2v1h-2zM7 27h1v1h-1zM17 27h1v1h-1zM20 27h1v1h-1zM28 27h1v1h-1zM31 27h2v1h-2zM36 27h2v1h-2zM4 28h1v1h-1zM6 28h1v1h-1zM24 28h1v1h-1zM31 28h1v1h-1zM36 28h1v1h-1zM39 28h1v1h-1zM41 28h1v1h-1zM44 28h3v1h-3zM7 29h1v1h-1zM28 29h1v1h-1zM34 29h2v1h-2zM47 29h2v1h-2zM3 30h3v1h-3zM7 30h1v1h-1zM16 30h1v1h-1zM24 30h1v1h-1zM27 30h3v1h-3zM2 31h4v1h-4zM24 31h3v1h-3zM30 31h3v1h-3zM39 31h2v1h-2zM49 31h1v1h-1zM6 32h2v1h-2zM25 32h1v1h-1zM30 32h2v1h-2zM39 32h2v1h-2zM30 33h1v1h-1zM37 33h1v1h-1zM10 34h1v1h-1zM13 34h1v1h-1zM17 34h1v1h-1zM36 34h3v1h-3zM44 34h1v1h-1zM3 35h1v1h-1zM17 35h1v1h-1zM21 35h1v1h-1zM36 35h1v1h-1zM40 35h5v1h-5zM8 36h3v1h-3zM18 36h1v1h-1zM24 36h1v1h-1zM33 36h1v1h-1zM39 36h1v1h-1zM32 37h1v1h-1zM37 37h2v1h-2zM42 37h1v1h-1zM25 38h2v1h-2zM35 38h4v1h-4zM49 38h1v1h-1zM5 39h3v1h-3zM26 39h1v1h-1zM39 39h4v1h-4zM48 39h1v1h-1zM5 40h2v1h-2zM41 40h1v1h-1zM47 40h1v1h-1zM3 41h1v1h-1zM13 41h1v1h-1zM24 41h1v1h-1zM38 41h2v1h-2zM41 41h1v1h-1zM0 42h1v1h-1zM13 42h1v1h-1zM23 42h1v1h-1zM30 42h1v1h-1zM41 42h1v1h-1zM45 42h2v1h-2zM49 42h1v1h-1zM21 43h1v1h-1zM24 43h1v1h-1zM29 43h1v1h-1zM45 43h2v1h-2zM48 43h2v1h-2zM7 44h1v1h-1zM11 44h1v1h-1zM21 44h1v1h-1zM25 44h1v1h-1zM35 44h1v1h-1zM45 44h1v1h-1zM49 44h1v1h-1zM10 45h1v1h-1zM31 45h2v1h-2zM0 46h1v1h-1zM15 46h1v1h-1zM20 46h2v1h-2zM29 46h1v1h-1zM45 46h1v1h-1zM48 46h1v1h-1zM11 47h1v1h-1zM13 47h1v1h-1zM10 48h1v1h-1zM13 48h1v1h-1zM15 48h2v1h-2zM1 49h2v1h-2zM6 49h2v1h-2zM10 49h1v1h-1zM13 49h1v1h-1zM15 49h2v1h-2zM45 49h2v1h-2z"/>
</g>
</g>
<clipPath id="bd6"><rect x="431.6" y="637" width="217.9" height="46"/></clipPath>
<g clip-path="url(#bd6)"><g class="bb"><use href="#hm6"/></g></g>
<rect x="431.6" y="490.3" width="217.9" height="218.5" fill="none" stroke="#445" stroke-opacity="0.55" stroke-width="0.8"/>
<g>
<text x="131.05" y="242" font-size="14" text-anchor="middle" >10</text>
<text x="86.9" y="191.09" font-size="14" text-anchor="end" >10</text>
<text x="174.89" y="242" font-size="14" text-anchor="middle" >20</text>
<text x="86.9" y="147.19" font-size="14" text-anchor="end" >20</text>
<text x="218.73" y="242" font-size="14" text-anchor="middle" >30</text>
<text x="86.9" y="103.3" font-size="14" text-anchor="end" >30</text>
<text x="262.56" y="242" font-size="14" text-anchor="middle" >40</text>
<text x="86.9" y="59.4" font-size="14" text-anchor="end" >40</text>
<text x="306.4" y="242" font-size="14" text-anchor="middle" >50</text>
<text x="86.9" y="15.5" font-size="14" text-anchor="end" >50</text>
<text x="359.4" y="230.4" font-size="14" text-anchor="start" >0</text>
<text x="359.4" y="201.84" font-size="14" text-anchor="start" >1</text>
<text x="359.4" y="173.28" font-size="14" text-anchor="start" >2</text>
<text x="359.4" y="144.72" font-size="14" text-anchor="start" >3</text>
<text x="359.4" y="116.16" font-size="14" text-anchor="start" >4</text>
<text x="359.4" y="87.6" font-size="14" text-anchor="start" >5</text>
<text x="359.4" y="59.04" font-size="14" text-anchor="start" >6</text>
<text x="359.4" y="30.48" font-size="14" text-anchor="start" >7</text>
<text x="6.7" y="121.6" font-size="15" textLength="50.8" lengthAdjust="spacingAndGlyphs">c=1.98</text>
<text x="472.3" y="240.7" font-size="14" text-anchor="middle" >10</text>
<text x="428.8" y="191.08" font-size="14" text-anchor="end" >10</text>
<text x="515.75" y="240.7" font-size="14" text-anchor="middle" >20</text>
<text x="428.8" y="147.61" font-size="14" text-anchor="end" >20</text>
<text x="559.2" y="240.7" font-size="14" text-anchor="middle" >30</text>
<text x="428.8" y="104.14" font-size="14" text-anchor="end" >30</text>
<text x="602.65" y="240.7" font-size="14" text-anchor="middle" >40</text>
<text x="428.8" y="60.67" font-size="14" text-anchor="end" >40</text>
<text x="646.1" y="240.7" font-size="14" text-anchor="middle" >50</text>
<text x="428.8" y="17.2" font-size="14" text-anchor="end" >50</text>
<text x="129.68" y="481.8" font-size="14" text-anchor="middle" >10</text>
<text x="86.3" y="430.45" font-size="14" text-anchor="end" >10</text>
<text x="173.98" y="481.8" font-size="14" text-anchor="middle" >20</text>
<text x="86.3" y="386.06" font-size="14" text-anchor="end" >20</text>
<text x="218.29" y="481.8" font-size="14" text-anchor="middle" >30</text>
<text x="86.3" y="341.68" font-size="14" text-anchor="end" >30</text>
<text x="262.59" y="481.8" font-size="14" text-anchor="middle" >40</text>
<text x="86.3" y="297.29" font-size="14" text-anchor="end" >40</text>
<text x="306.9" y="481.8" font-size="14" text-anchor="middle" >50</text>
<text x="86.3" y="252.9" font-size="14" text-anchor="end" >50</text>
<text x="359.7" y="470.7" font-size="14" text-anchor="start" >0</text>
<text x="359.7" y="441.73" font-size="14" text-anchor="start" >1</text>
<text x="359.7" y="412.75" font-size="14" text-anchor="start" >2</text>
<text x="359.7" y="383.78" font-size="14" text-anchor="start" >3</text>
<text x="359.7" y="354.81" font-size="14" text-anchor="start" >4</text>
<text x="359.7" y="325.83" font-size="14" text-anchor="start" >5</text>
<text x="359.7" y="296.86" font-size="14" text-anchor="start" >6</text>
<text x="359.7" y="267.89" font-size="14" text-anchor="start" >7</text>
<text x="6.7" y="363.7" font-size="15" textLength="50.8" lengthAdjust="spacingAndGlyphs">c=2.08</text>
<text x="471.93" y="480.6" font-size="14" text-anchor="middle" >10</text>
<text x="426.9" y="430.3" font-size="14" text-anchor="end" >10</text>
<text x="516.07" y="480.6" font-size="14" text-anchor="middle" >20</text>
<text x="426.9" y="386.07" font-size="14" text-anchor="end" >20</text>
<text x="560.21" y="480.6" font-size="14" text-anchor="middle" >30</text>
<text x="426.9" y="341.85" font-size="14" text-anchor="end" >30</text>
<text x="604.36" y="480.6" font-size="14" text-anchor="middle" >40</text>
<text x="426.9" y="297.62" font-size="14" text-anchor="end" >40</text>
<text x="648.5" y="480.6" font-size="14" text-anchor="middle" >50</text>
<text x="426.9" y="253.4" font-size="14" text-anchor="end" >50</text>
<text x="129.32" y="725.8" font-size="14" text-anchor="middle" >10</text>
<text x="84" y="673.55" font-size="14" text-anchor="end" >10</text>
<text x="174.11" y="725.8" font-size="14" text-anchor="middle" >20</text>
<text x="84" y="628.16" font-size="14" text-anchor="end" >20</text>
<text x="218.91" y="725.8" font-size="14" text-anchor="middle" >30</text>
<text x="84" y="582.78" font-size="14" text-anchor="end" >30</text>
<text x="263.7" y="725.8" font-size="14" text-anchor="middle" >40</text>
<text x="84" y="537.39" font-size="14" text-anchor="end" >40</text>
<text x="308.5" y="725.8" font-size="14" text-anchor="middle" >50</text>
<text x="84" y="492" font-size="14" text-anchor="end" >50</text>
<text x="361.5" y="715.1" font-size="14" text-anchor="start" >0</text>
<text x="361.5" y="685.74" font-size="14" text-anchor="start" >1</text>
<text x="361.5" y="656.38" font-size="14" text-anchor="start" >2</text>
<text x="361.5" y="627.02" font-size="14" text-anchor="start" >3</text>
<text x="361.5" y="597.66" font-size="14" text-anchor="start" >4</text>
<text x="361.5" y="568.3" font-size="14" text-anchor="start" >5</text>
<text x="361.5" y="538.94" font-size="14" text-anchor="start" >6</text>
<text x="361.5" y="509.58" font-size="14" text-anchor="start" >7</text>
<text x="6.7" y="604.8" font-size="15" textLength="50.8" lengthAdjust="spacingAndGlyphs">c=2.18</text>
<text x="471.62" y="724.3" font-size="14" text-anchor="middle" >10</text>
<text x="427.3" y="673.67" font-size="14" text-anchor="end" >10</text>
<text x="516.09" y="724.3" font-size="14" text-anchor="middle" >20</text>
<text x="427.3" y="629.08" font-size="14" text-anchor="end" >20</text>
<text x="560.56" y="724.3" font-size="14" text-anchor="middle" >30</text>
<text x="427.3" y="584.48" font-size="14" text-anchor="end" >30</text>
<text x="605.03" y="724.3" font-size="14" text-anchor="middle" >40</text>
<text x="427.3" y="539.89" font-size="14" text-anchor="end" >40</text>
<text x="649.5" y="724.3" font-size="14" text-anchor="middle" >50</text>
<text x="427.3" y="495.3" font-size="14" text-anchor="end" >50</text>
<rect x="724.4" y="50.8" width="282.6" height="150.4" fill="none" stroke="#6a6a6a" stroke-width="0.9"/>
<path d="M724.4 201.2v-2.6M724.4 50.8v2.6M766.94 201.2v-1.6M766.94 50.8v1.6M791.82 201.2v-1.6M791.82 50.8v1.6M809.47 201.2v-1.6M809.47 50.8v1.6M823.16 201.2v-1.6M823.16 50.8v1.6M834.35 201.2v-1.6M834.35 50.8v1.6M843.81 201.2v-1.6M843.81 50.8v1.6M852.01 201.2v-1.6M852.01 50.8v1.6M859.23 201.2v-1.6M859.23 50.8v1.6M865.7 201.2v-2.6M865.7 50.8v2.6M908.24 201.2v-1.6M908.24 50.8v1.6M933.12 201.2v-1.6M933.12 50.8v1.6M950.77 201.2v-1.6M950.77 50.8v1.6M964.46 201.2v-1.6M964.46 50.8v1.6M975.65 201.2v-1.6M975.65 50.8v1.6M985.11 201.2v-1.6M985.11 50.8v1.6M993.31 201.2v-1.6M993.31 50.8v1.6M1000.53 201.2v-1.6M1000.53 50.8v1.6" stroke="#6a6a6a" stroke-width="0.7" fill="none"/>
<text x="719.4" y="55.1" font-size="13.5" text-anchor="end">10<tspan dx="0.6" dy="-7.3" font-size="8.5">5</tspan></text>
<text x="719.4" y="205.5" font-size="13.5" text-anchor="end">10<tspan dx="0.6" dy="-7.3" font-size="8.5">0</tspan></text>
<text x="724.7" y="221.8" font-size="13.5" text-anchor="middle">10<tspan dx="0.6" dy="-7.3" font-size="8.5">0</tspan></text>
<text x="866" y="221.8" font-size="13.5" text-anchor="middle">10<tspan dx="0.6" dy="-7.3" font-size="8.5">1</tspan></text>
<text x="1007.3" y="221.8" font-size="13.5" text-anchor="middle">10<tspan dx="0.6" dy="-7.3" font-size="8.5">2</tspan></text>
<text x="863.9" y="238.7" font-size="14" text-anchor="middle" >area</text>
<circle cx="723.4" cy="57.7" r="4.1"/>
<circle cx="846.6" cy="90.9" r="4.1"/>
<circle cx="884.9" cy="104.3" r="4.1"/>
<circle cx="908.4" cy="119.8" r="4.1"/>
<circle cx="925.2" cy="127.8" r="4.1"/>
<circle cx="938.3" cy="138.2" r="4.1"/>
<circle cx="948.7" cy="151.7" r="4.1"/>
<circle cx="958.1" cy="160.4" r="4.1"/>
<circle cx="966.2" cy="171.2" r="4.1"/>
<circle cx="973.9" cy="185.6" r="4.1"/>
<circle cx="980.6" cy="181.9" r="4.1"/>
<circle cx="990.7" cy="191.3" r="4.1"/>
<circle cx="985" cy="200.4" r="4.1"/>
<circle cx="996.1" cy="200.4" r="4.1"/>
<path d="M718.75 57.7l4.65 -4.65l4.65 4.65l-4.65 4.65zM841.95 90.9l4.65 -4.65l4.65 4.65l-4.65 4.65zM880.25 104.3l4.65 -4.65l4.65 4.65l-4.65 4.65zM903.75 119.8l4.65 -4.65l4.65 4.65l-4.65 4.65zM920.55 127.8l4.65 -4.65l4.65 4.65l-4.65 4.65zM933.65 138.2l4.65 -4.65l4.65 4.65l-4.65 4.65zM944.05 151.7l4.65 -4.65l4.65 4.65l-4.65 4.65zM953.45 160.4l4.65 -4.65l4.65 4.65l-4.65 4.65zM961.55 171.2l4.65 -4.65l4.65 4.65l-4.65 4.65zM969.25 185.6l4.65 -4.65l4.65 4.65l-4.65 4.65zM975.95 181.9l4.65 -4.65l4.65 4.65l-4.65 4.65zM986.05 191.3l4.65 -4.65l4.65 4.65l-4.65 4.65zM980.35 200.4l4.65 -4.65l4.65 4.65l-4.65 4.65zM991.45 200.4l4.65 -4.65l4.65 4.65l-4.65 4.65z" fill="#000"/>
<rect x="724.4" y="286.3" width="282.5" height="148.9" fill="none" stroke="#6a6a6a" stroke-width="0.9"/>
<path d="M724.4 435.2v-2.6M795.02 435.2v-2.6M865.65 435.2v-2.6M936.27 435.2v-2.6" stroke="#6a6a6a" stroke-width="0.7" fill="none"/>
<text x="719.4" y="290.6" font-size="13.5" text-anchor="end">10<tspan dx="0.6" dy="-7.3" font-size="8.5">5</tspan></text>
<text x="719.4" y="439.5" font-size="13.5" text-anchor="end">10<tspan dx="0.6" dy="-7.3" font-size="8.5">0</tspan></text>
<text x="724.7" y="455.8" font-size="13.5" text-anchor="middle">10<tspan dx="0.6" dy="-7.3" font-size="8.5">0</tspan></text>
<text x="865.95" y="455.8" font-size="13.5" text-anchor="middle">10<tspan dx="0.6" dy="-7.3" font-size="8.5">2</tspan></text>
<text x="1007.2" y="455.8" font-size="13.5" text-anchor="middle">10<tspan dx="0.6" dy="-7.3" font-size="8.5">4</tspan></text>
<text x="863.85" y="472.7" font-size="14" text-anchor="middle" >area</text>
<circle cx="723.34" cy="307.9" r="4.1"/>
<circle cx="785.58" cy="337.82" r="4.1"/>
<circle cx="804.68" cy="346.16" r="4.1"/>
<circle cx="816.36" cy="355.99" r="4.1"/>
<circle cx="824.8" cy="360.75" r="4.1"/>
<circle cx="831.41" cy="361.35" r="4.1"/>
<circle cx="836.85" cy="370.58" r="4.1"/>
<circle cx="841.46" cy="368.49" r="4.1"/>
<circle cx="845.47" cy="376.83" r="4.1"/>
<circle cx="849.02" cy="373.56" r="4.1"/>
<circle cx="852.2" cy="380.82" r="4.1"/>
<circle cx="855.08" cy="380.07" r="4.1"/>
<circle cx="857.71" cy="385.97" r="4.1"/>
<circle cx="860.14" cy="380.63" r="4.1"/>
<circle cx="862.38" cy="386.26" r="4.1"/>
<circle cx="864.48" cy="385.97" r="4.1"/>
<circle cx="866.44" cy="391.21" r="4.1"/>
<circle cx="868.28" cy="388.5" r="4.1"/>
<circle cx="870.02" cy="388.5" r="4.1"/>
<circle cx="871.66" cy="391.21" r="4.1"/>
<circle cx="873.22" cy="394.1" r="4.1"/>
<circle cx="874.71" cy="396.46" r="4.1"/>
<circle cx="876.12" cy="391.65" r="4.1"/>
<circle cx="877.48" cy="395.82" r="4.1"/>
<circle cx="878.77" cy="397.12" r="4.1"/>
<circle cx="880.02" cy="395.82" r="4.1"/>
<circle cx="881.21" cy="394.1" r="4.1"/>
<circle cx="882.36" cy="400.18" r="4.1"/>
<circle cx="883.47" cy="395.22" r="4.1"/>
<circle cx="884.54" cy="402.03" r="4.1"/>
<circle cx="885.58" cy="401.07" r="4.1"/>
<circle cx="886.58" cy="412.03" r="4.1"/>
<circle cx="887.55" cy="398.56" r="4.1"/>
<circle cx="888.49" cy="405.42" r="4.1"/>
<circle cx="889.4" cy="412.03" r="4.1"/>
<circle cx="890.28" cy="404.19" r="4.1"/>
<circle cx="891.14" cy="402.03" r="4.1"/>
<circle cx="891.98" cy="417.27" r="4.1"/>
<circle cx="892.79" cy="414.38" r="4.1"/>
<circle cx="893.59" cy="404.19" r="4.1"/>
<circle cx="894.36" cy="412.03" r="4.1"/>
<circle cx="895.12" cy="403.06" r="4.1"/>
<circle cx="895.85" cy="412.03" r="4.1"/>
<circle cx="896.57" cy="410.03" r="4.1"/>
<circle cx="897.27" cy="412.03" r="4.1"/>
<circle cx="897.96" cy="410.03" r="4.1"/>
<circle cx="898.63" cy="412.03" r="4.1"/>
<circle cx="899.29" cy="406.78" r="4.1"/>
<circle cx="899.93" cy="410.03" r="4.1"/>
<circle cx="900.56" cy="408.31" r="4.1"/>
<circle cx="901.18" cy="417.27" r="4.1"/>
<circle cx="901.79" cy="408.31" r="4.1"/>
<circle cx="902.38" cy="408.31" r="4.1"/>
<circle cx="902.96" cy="408.31" r="4.1"/>
<circle cx="903.54" cy="412.03" r="4.1"/>
<circle cx="904.1" cy="414.38" r="4.1"/>
<circle cx="904.65" cy="435.2" r="4.1"/>
<circle cx="905.19" cy="414.38" r="4.1"/>
<circle cx="905.72" cy="414.38" r="4.1"/>
<circle cx="906.24" cy="412.03" r="4.1"/>
<circle cx="906.76" cy="420.99" r="4.1"/>
<circle cx="907.26" cy="426.24" r="4.1"/>
<circle cx="907.76" cy="420.99" r="4.1"/>
<circle cx="908.25" cy="408.31" r="4.1"/>
<circle cx="908.73" cy="426.24" r="4.1"/>
<circle cx="909.21" cy="408.31" r="4.1"/>
<circle cx="909.67" cy="420.99" r="4.1"/>
<circle cx="910.13" cy="412.03" r="4.1"/>
<circle cx="910.59" cy="417.27" r="4.1"/>
<circle cx="911.03" cy="420.99" r="4.1"/>
<circle cx="911.47" cy="435.2" r="4.1"/>
<circle cx="911.91" cy="408.31" r="4.1"/>
<circle cx="912.34" cy="435.2" r="4.1"/>
<circle cx="912.76" cy="426.24" r="4.1"/>
<circle cx="913.18" cy="414.38" r="4.1"/>
<circle cx="913.59" cy="435.2" r="4.1"/>
<circle cx="913.99" cy="414.38" r="4.1"/>
<circle cx="914.39" cy="435.2" r="4.1"/>
<circle cx="914.79" cy="426.24" r="4.1"/>
<circle cx="915.18" cy="426.24" r="4.1"/>
<circle cx="915.56" cy="420.99" r="4.1"/>
<circle cx="915.94" cy="435.2" r="4.1"/>
<circle cx="916.32" cy="426.24" r="4.1"/>
<circle cx="916.69" cy="435.2" r="4.1"/>
<circle cx="917.06" cy="414.38" r="4.1"/>
<circle cx="917.42" cy="420.99" r="4.1"/>
<circle cx="917.78" cy="417.27" r="4.1"/>
<circle cx="918.13" cy="426.24" r="4.1"/>
<circle cx="918.48" cy="420.99" r="4.1"/>
<circle cx="918.83" cy="435.2" r="4.1"/>
<circle cx="919.17" cy="420.99" r="4.1"/>
<circle cx="919.51" cy="426.24" r="4.1"/>
<circle cx="919.84" cy="435.2" r="4.1"/>
<circle cx="920.17" cy="435.2" r="4.1"/>
<circle cx="920.5" cy="426.24" r="4.1"/>
<circle cx="920.82" cy="435.2" r="4.1"/>
<circle cx="921.14" cy="426.24" r="4.1"/>
<circle cx="921.46" cy="435.2" r="4.1"/>
<circle cx="921.78" cy="435.2" r="4.1"/>
<circle cx="922.09" cy="426.24" r="4.1"/>
<circle cx="922.39" cy="420.99" r="4.1"/>
<circle cx="922.7" cy="420.99" r="4.1"/>
<circle cx="923" cy="426.24" r="4.1"/>
<circle cx="923.3" cy="420.99" r="4.1"/>
<circle cx="923.6" cy="420.99" r="4.1"/>
<circle cx="923.89" cy="426.24" r="4.1"/>
<circle cx="924.18" cy="420.99" r="4.1"/>
<circle cx="924.47" cy="420.99" r="4.1"/>
<circle cx="924.75" cy="420.99" r="4.1"/>
<circle cx="925.03" cy="435.2" r="4.1"/>
<circle cx="925.31" cy="435.2" r="4.1"/>
<circle cx="925.59" cy="435.2" r="4.1"/>
<circle cx="925.87" cy="435.2" r="4.1"/>
<circle cx="926.14" cy="435.2" r="4.1"/>
<circle cx="926.41" cy="435.2" r="4.1"/>
<circle cx="926.67" cy="435.2" r="4.1"/>
<circle cx="926.94" cy="435.2" r="4.1"/>
<circle cx="927.2" cy="435.2" r="4.1"/>
<circle cx="927.46" cy="435.2" r="4.1"/>
<circle cx="927.72" cy="435.2" r="4.1"/>
<circle cx="927.98" cy="435.2" r="4.1"/>
<circle cx="928.23" cy="435.2" r="4.1"/>
<circle cx="928.48" cy="435.2" r="4.1"/>
<circle cx="928.73" cy="435.2" r="4.1"/>
<circle cx="928.98" cy="435.2" r="4.1"/>
<circle cx="929.23" cy="435.2" r="4.1"/>
<circle cx="929.47" cy="435.2" r="4.1"/>
<circle cx="929.72" cy="435.2" r="4.1"/>
<circle cx="929.96" cy="435.2" r="4.1"/>
<circle cx="930.19" cy="435.2" r="4.1"/>
<circle cx="930.43" cy="435.2" r="4.1"/>
<circle cx="930.67" cy="435.2" r="4.1"/>
<circle cx="930.9" cy="435.2" r="4.1"/>
<circle cx="931.13" cy="435.2" r="4.1"/>
<circle cx="931.36" cy="435.2" r="4.1"/>
<circle cx="931.59" cy="435.2" r="4.1"/>
<circle cx="931.81" cy="435.2" r="4.1"/>
<circle cx="932.04" cy="435.2" r="4.1"/>
<circle cx="932.26" cy="435.2" r="4.1"/>
<circle cx="932.48" cy="435.2" r="4.1"/>
<circle cx="932.7" cy="435.2" r="4.1"/>
<circle cx="932.92" cy="435.2" r="4.1"/>
<circle cx="933.14" cy="435.2" r="4.1"/>
<circle cx="933.35" cy="435.2" r="4.1"/>
<circle cx="933.56" cy="435.2" r="4.1"/>
<circle cx="933.78" cy="435.2" r="4.1"/>
<circle cx="933.99" cy="435.2" r="4.1"/>
<circle cx="934.2" cy="435.2" r="4.1"/>
<circle cx="934.4" cy="435.2" r="4.1"/>
<circle cx="934.61" cy="435.2" r="4.1"/>
<circle cx="934.81" cy="435.2" r="4.1"/>
<circle cx="935.02" cy="435.2" r="4.1"/>
<circle cx="935.22" cy="435.2" r="4.1"/>
<circle cx="935.42" cy="435.2" r="4.1"/>
<circle cx="935.62" cy="435.2" r="4.1"/>
<circle cx="935.82" cy="435.2" r="4.1"/>
<circle cx="936.02" cy="435.2" r="4.1"/>
<circle cx="936.21" cy="435.2" r="4.1"/>
<circle cx="936.41" cy="435.2" r="4.1"/>
<circle cx="936.6" cy="435.2" r="4.1"/>
<circle cx="936.79" cy="435.2" r="4.1"/>
<circle cx="936.98" cy="435.2" r="4.1"/>
<circle cx="937.17" cy="435.2" r="4.1"/>
<circle cx="937.36" cy="435.2" r="4.1"/>
<circle cx="937.55" cy="435.2" r="4.1"/>
<circle cx="937.73" cy="435.2" r="4.1"/>
<circle cx="937.92" cy="435.2" r="4.1"/>
<circle cx="938.1" cy="435.2" r="4.1"/>
<circle cx="938.29" cy="435.2" r="4.1"/>
<circle cx="938.47" cy="435.2" r="4.1"/>
<circle cx="938.65" cy="435.2" r="4.1"/>
<circle cx="938.83" cy="435.2" r="4.1"/>
<circle cx="939.01" cy="435.2" r="4.1"/>
<circle cx="939.19" cy="435.2" r="4.1"/>
<circle cx="939.36" cy="435.2" r="4.1"/>
<circle cx="939.54" cy="435.2" r="4.1"/>
<circle cx="939.71" cy="435.2" r="4.1"/>
<circle cx="939.89" cy="435.2" r="4.1"/>
<circle cx="940.06" cy="435.2" r="4.1"/>
<circle cx="940.23" cy="435.2" r="4.1"/>
<circle cx="940.4" cy="435.2" r="4.1"/>
<circle cx="940.57" cy="435.2" r="4.1"/>
<circle cx="940.74" cy="435.2" r="4.1"/>
<circle cx="940.91" cy="435.2" r="4.1"/>
<circle cx="941.07" cy="435.2" r="4.1"/>
<circle cx="945.73" cy="435.2" r="4.1"/>
<circle cx="888.84" cy="426.24" r="4.1"/>
<path d="M718.69 307.9l4.65 -4.65l4.65 4.65l-4.65 4.65zM780.93 337.82l4.65 -4.65l4.65 4.65l-4.65 4.65zM800.03 346.16l4.65 -4.65l4.65 4.65l-4.65 4.65zM811.71 355.99l4.65 -4.65l4.65 4.65l-4.65 4.65zM820.15 360.75l4.65 -4.65l4.65 4.65l-4.65 4.65zM826.76 361.35l4.65 -4.65l4.65 4.65l-4.65 4.65zM832.2 370.58l4.65 -4.65l4.65 4.65l-4.65 4.65zM836.81 368.49l4.65 -4.65l4.65 4.65l-4.65 4.65zM840.82 376.83l4.65 -4.65l4.65 4.65l-4.65 4.65zM844.37 373.56l4.65 -4.65l4.65 4.65l-4.65 4.65zM847.55 380.82l4.65 -4.65l4.65 4.65l-4.65 4.65zM850.43 380.07l4.65 -4.65l4.65 4.65l-4.65 4.65zM853.06 385.97l4.65 -4.65l4.65 4.65l-4.65 4.65zM855.49 380.63l4.65 -4.65l4.65 4.65l-4.65 4.65zM857.73 386.26l4.65 -4.65l4.65 4.65l-4.65 4.65zM859.83 385.97l4.65 -4.65l4.65 4.65l-4.65 4.65zM861.79 391.21l4.65 -4.65l4.65 4.65l-4.65 4.65zM863.63 388.5l4.65 -4.65l4.65 4.65l-4.65 4.65zM865.37 388.5l4.65 -4.65l4.65 4.65l-4.65 4.65zM867.01 391.21l4.65 -4.65l4.65 4.65l-4.65 4.65zM868.57 394.1l4.65 -4.65l4.65 4.65l-4.65 4.65zM870.06 396.46l4.65 -4.65l4.65 4.65l-4.65 4.65zM871.47 391.65l4.65 -4.65l4.65 4.65l-4.65 4.65zM872.83 395.82l4.65 -4.65l4.65 4.65l-4.65 4.65zM874.12 397.12l4.65 -4.65l4.65 4.65l-4.65 4.65zM875.37 395.82l4.65 -4.65l4.65 4.65l-4.65 4.65zM876.56 394.1l4.65 -4.65l4.65 4.65l-4.65 4.65zM877.71 400.18l4.65 -4.65l4.65 4.65l-4.65 4.65zM878.82 395.22l4.65 -4.65l4.65 4.65l-4.65 4.65zM879.89 402.03l4.65 -4.65l4.65 4.65l-4.65 4.65zM880.93 401.07l4.65 -4.65l4.65 4.65l-4.65 4.65zM881.93 412.03l4.65 -4.65l4.65 4.65l-4.65 4.65zM882.9 398.56l4.65 -4.65l4.65 4.65l-4.65 4.65zM883.84 405.42l4.65 -4.65l4.65 4.65l-4.65 4.65zM884.75 412.03l4.65 -4.65l4.65 4.65l-4.65 4.65zM885.63 404.19l4.65 -4.65l4.65 4.65l-4.65 4.65zM886.49 402.03l4.65 -4.65l4.65 4.65l-4.65 4.65zM887.33 417.27l4.65 -4.65l4.65 4.65l-4.65 4.65zM888.14 414.38l4.65 -4.65l4.65 4.65l-4.65 4.65zM888.94 404.19l4.65 -4.65l4.65 4.65l-4.65 4.65zM889.71 412.03l4.65 -4.65l4.65 4.65l-4.65 4.65zM890.47 403.06l4.65 -4.65l4.65 4.65l-4.65 4.65zM891.2 412.03l4.65 -4.65l4.65 4.65l-4.65 4.65zM891.92 410.03l4.65 -4.65l4.65 4.65l-4.65 4.65zM892.62 412.03l4.65 -4.65l4.65 4.65l-4.65 4.65zM893.31 410.03l4.65 -4.65l4.65 4.65l-4.65 4.65zM893.98 412.03l4.65 -4.65l4.65 4.65l-4.65 4.65zM894.64 406.78l4.65 -4.65l4.65 4.65l-4.65 4.65zM895.28 410.03l4.65 -4.65l4.65 4.65l-4.65 4.65zM895.91 408.31l4.65 -4.65l4.65 4.65l-4.65 4.65zM896.53 417.27l4.65 -4.65l4.65 4.65l-4.65 4.65zM897.14 408.31l4.65 -4.65l4.65 4.65l-4.65 4.65zM897.73 408.31l4.65 -4.65l4.65 4.65l-4.65 4.65zM898.31 408.31l4.65 -4.65l4.65 4.65l-4.65 4.65zM898.89 412.03l4.65 -4.65l4.65 4.65l-4.65 4.65zM899.45 414.38l4.65 -4.65l4.65 4.65l-4.65 4.65zM900 435.2l4.65 -4.65l4.65 4.65l-4.65 4.65zM900.54 414.38l4.65 -4.65l4.65 4.65l-4.65 4.65zM901.07 414.38l4.65 -4.65l4.65 4.65l-4.65 4.65zM901.59 412.03l4.65 -4.65l4.65 4.65l-4.65 4.65zM902.11 420.99l4.65 -4.65l4.65 4.65l-4.65 4.65zM902.61 426.24l4.65 -4.65l4.65 4.65l-4.65 4.65zM903.11 420.99l4.65 -4.65l4.65 4.65l-4.65 4.65zM903.6 408.31l4.65 -4.65l4.65 4.65l-4.65 4.65zM904.08 426.24l4.65 -4.65l4.65 4.65l-4.65 4.65zM904.56 408.31l4.65 -4.65l4.65 4.65l-4.65 4.65zM905.02 420.99l4.65 -4.65l4.65 4.65l-4.65 4.65zM905.48 412.03l4.65 -4.65l4.65 4.65l-4.65 4.65zM905.94 417.27l4.65 -4.65l4.65 4.65l-4.65 4.65zM906.38 420.99l4.65 -4.65l4.65 4.65l-4.65 4.65zM906.82 435.2l4.65 -4.65l4.65 4.65l-4.65 4.65zM907.26 408.31l4.65 -4.65l4.65 4.65l-4.65 4.65zM907.69 435.2l4.65 -4.65l4.65 4.65l-4.65 4.65zM908.11 426.24l4.65 -4.65l4.65 4.65l-4.65 4.65zM908.53 414.38l4.65 -4.65l4.65 4.65l-4.65 4.65zM908.94 435.2l4.65 -4.65l4.65 4.65l-4.65 4.65zM909.34 414.38l4.65 -4.65l4.65 4.65l-4.65 4.65zM909.74 435.2l4.65 -4.65l4.65 4.65l-4.65 4.65zM910.14 426.24l4.65 -4.65l4.65 4.65l-4.65 4.65zM910.53 426.24l4.65 -4.65l4.65 4.65l-4.65 4.65zM910.91 420.99l4.65 -4.65l4.65 4.65l-4.65 4.65zM911.29 435.2l4.65 -4.65l4.65 4.65l-4.65 4.65zM911.67 426.24l4.65 -4.65l4.65 4.65l-4.65 4.65zM912.04 435.2l4.65 -4.65l4.65 4.65l-4.65 4.65zM912.41 414.38l4.65 -4.65l4.65 4.65l-4.65 4.65zM912.77 420.99l4.65 -4.65l4.65 4.65l-4.65 4.65zM913.13 417.27l4.65 -4.65l4.65 4.65l-4.65 4.65zM913.48 426.24l4.65 -4.65l4.65 4.65l-4.65 4.65zM913.83 420.99l4.65 -4.65l4.65 4.65l-4.65 4.65zM914.18 435.2l4.65 -4.65l4.65 4.65l-4.65 4.65zM914.52 420.99l4.65 -4.65l4.65 4.65l-4.65 4.65zM914.86 426.24l4.65 -4.65l4.65 4.65l-4.65 4.65zM915.19 435.2l4.65 -4.65l4.65 4.65l-4.65 4.65zM915.52 435.2l4.65 -4.65l4.65 4.65l-4.65 4.65zM915.85 426.24l4.65 -4.65l4.65 4.65l-4.65 4.65zM916.17 435.2l4.65 -4.65l4.65 4.65l-4.65 4.65zM916.49 426.24l4.65 -4.65l4.65 4.65l-4.65 4.65zM916.81 435.2l4.65 -4.65l4.65 4.65l-4.65 4.65zM917.13 435.2l4.65 -4.65l4.65 4.65l-4.65 4.65zM917.44 426.24l4.65 -4.65l4.65 4.65l-4.65 4.65zM917.74 420.99l4.65 -4.65l4.65 4.65l-4.65 4.65zM918.05 420.99l4.65 -4.65l4.65 4.65l-4.65 4.65zM918.35 426.24l4.65 -4.65l4.65 4.65l-4.65 4.65zM918.65 420.99l4.65 -4.65l4.65 4.65l-4.65 4.65zM918.95 420.99l4.65 -4.65l4.65 4.65l-4.65 4.65zM919.24 426.24l4.65 -4.65l4.65 4.65l-4.65 4.65zM919.53 420.99l4.65 -4.65l4.65 4.65l-4.65 4.65zM919.82 420.99l4.65 -4.65l4.65 4.65l-4.65 4.65zM920.1 420.99l4.65 -4.65l4.65 4.65l-4.65 4.65zM920.38 435.2l4.65 -4.65l4.65 4.65l-4.65 4.65zM920.66 435.2l4.65 -4.65l4.65 4.65l-4.65 4.65zM920.94 435.2l4.65 -4.65l4.65 4.65l-4.65 4.65zM921.22 435.2l4.65 -4.65l4.65 4.65l-4.65 4.65zM921.49 435.2l4.65 -4.65l4.65 4.65l-4.65 4.65zM921.76 435.2l4.65 -4.65l4.65 4.65l-4.65 4.65zM922.02 435.2l4.65 -4.65l4.65 4.65l-4.65 4.65zM922.29 435.2l4.65 -4.65l4.65 4.65l-4.65 4.65zM922.55 435.2l4.65 -4.65l4.65 4.65l-4.65 4.65zM922.81 435.2l4.65 -4.65l4.65 4.65l-4.65 4.65zM923.07 435.2l4.65 -4.65l4.65 4.65l-4.65 4.65zM923.33 435.2l4.65 -4.65l4.65 4.65l-4.65 4.65zM923.58 435.2l4.65 -4.65l4.65 4.65l-4.65 4.65zM923.83 435.2l4.65 -4.65l4.65 4.65l-4.65 4.65zM924.08 435.2l4.65 -4.65l4.65 4.65l-4.65 4.65zM924.33 435.2l4.65 -4.65l4.65 4.65l-4.65 4.65zM924.58 435.2l4.65 -4.65l4.65 4.65l-4.65 4.65zM924.82 435.2l4.65 -4.65l4.65 4.65l-4.65 4.65zM925.07 435.2l4.65 -4.65l4.65 4.65l-4.65 4.65zM925.31 435.2l4.65 -4.65l4.65 4.65l-4.65 4.65zM925.54 435.2l4.65 -4.65l4.65 4.65l-4.65 4.65zM925.78 435.2l4.65 -4.65l4.65 4.65l-4.65 4.65zM926.02 435.2l4.65 -4.65l4.65 4.65l-4.65 4.65zM926.25 435.2l4.65 -4.65l4.65 4.65l-4.65 4.65zM926.48 435.2l4.65 -4.65l4.65 4.65l-4.65 4.65zM926.71 435.2l4.65 -4.65l4.65 4.65l-4.65 4.65zM926.94 435.2l4.65 -4.65l4.65 4.65l-4.65 4.65zM927.16 435.2l4.65 -4.65l4.65 4.65l-4.65 4.65zM927.39 435.2l4.65 -4.65l4.65 4.65l-4.65 4.65zM927.61 435.2l4.65 -4.65l4.65 4.65l-4.65 4.65zM927.83 435.2l4.65 -4.65l4.65 4.65l-4.65 4.65zM928.05 435.2l4.65 -4.65l4.65 4.65l-4.65 4.65zM928.27 435.2l4.65 -4.65l4.65 4.65l-4.65 4.65zM928.49 435.2l4.65 -4.65l4.65 4.65l-4.65 4.65zM928.7 435.2l4.65 -4.65l4.65 4.65l-4.65 4.65zM928.91 435.2l4.65 -4.65l4.65 4.65l-4.65 4.65zM929.13 435.2l4.65 -4.65l4.65 4.65l-4.65 4.65zM929.34 435.2l4.65 -4.65l4.65 4.65l-4.65 4.65zM929.55 435.2l4.65 -4.65l4.65 4.65l-4.65 4.65zM929.75 435.2l4.65 -4.65l4.65 4.65l-4.65 4.65zM929.96 435.2l4.65 -4.65l4.65 4.65l-4.65 4.65zM930.16 435.2l4.65 -4.65l4.65 4.65l-4.65 4.65zM930.37 435.2l4.65 -4.65l4.65 4.65l-4.65 4.65zM930.57 435.2l4.65 -4.65l4.65 4.65l-4.65 4.65zM930.77 435.2l4.65 -4.65l4.65 4.65l-4.65 4.65zM930.97 435.2l4.65 -4.65l4.65 4.65l-4.65 4.65zM931.17 435.2l4.65 -4.65l4.65 4.65l-4.65 4.65zM931.37 435.2l4.65 -4.65l4.65 4.65l-4.65 4.65zM931.56 435.2l4.65 -4.65l4.65 4.65l-4.65 4.65zM931.76 435.2l4.65 -4.65l4.65 4.65l-4.65 4.65zM931.95 435.2l4.65 -4.65l4.65 4.65l-4.65 4.65zM932.14 435.2l4.65 -4.65l4.65 4.65l-4.65 4.65zM932.33 435.2l4.65 -4.65l4.65 4.65l-4.65 4.65zM932.52 435.2l4.65 -4.65l4.65 4.65l-4.65 4.65zM932.71 435.2l4.65 -4.65l4.65 4.65l-4.65 4.65zM932.9 435.2l4.65 -4.65l4.65 4.65l-4.65 4.65zM933.08 435.2l4.65 -4.65l4.65 4.65l-4.65 4.65zM933.27 435.2l4.65 -4.65l4.65 4.65l-4.65 4.65zM933.45 435.2l4.65 -4.65l4.65 4.65l-4.65 4.65zM933.64 435.2l4.65 -4.65l4.65 4.65l-4.65 4.65zM933.82 435.2l4.65 -4.65l4.65 4.65l-4.65 4.65zM934 435.2l4.65 -4.65l4.65 4.65l-4.65 4.65zM934.18 435.2l4.65 -4.65l4.65 4.65l-4.65 4.65zM934.36 435.2l4.65 -4.65l4.65 4.65l-4.65 4.65zM934.54 435.2l4.65 -4.65l4.65 4.65l-4.65 4.65zM934.71 435.2l4.65 -4.65l4.65 4.65l-4.65 4.65zM934.89 435.2l4.65 -4.65l4.65 4.65l-4.65 4.65zM935.06 435.2l4.65 -4.65l4.65 4.65l-4.65 4.65zM935.24 435.2l4.65 -4.65l4.65 4.65l-4.65 4.65zM935.41 435.2l4.65 -4.65l4.65 4.65l-4.65 4.65zM935.58 435.2l4.65 -4.65l4.65 4.65l-4.65 4.65zM935.75 435.2l4.65 -4.65l4.65 4.65l-4.65 4.65zM935.92 435.2l4.65 -4.65l4.65 4.65l-4.65 4.65zM936.09 435.2l4.65 -4.65l4.65 4.65l-4.65 4.65zM936.26 435.2l4.65 -4.65l4.65 4.65l-4.65 4.65zM936.42 435.2l4.65 -4.65l4.65 4.65l-4.65 4.65zM941.08 435.2l4.65 -4.65l4.65 4.65l-4.65 4.65zM884.19 426.24l4.65 -4.65l4.65 4.65l-4.65 4.65z" fill="#000"/>
<rect x="724.4" y="525.8" width="282.6" height="152" fill="none" stroke="#6a6a6a" stroke-width="0.9"/>
<path d="M724.4 677.8v-2.6M724.4 525.8v2.6M766.94 677.8v-1.6M766.94 525.8v1.6M791.82 677.8v-1.6M791.82 525.8v1.6M809.47 677.8v-1.6M809.47 525.8v1.6M823.16 677.8v-1.6M823.16 525.8v1.6M834.35 677.8v-1.6M834.35 525.8v1.6M843.81 677.8v-1.6M843.81 525.8v1.6M852.01 677.8v-1.6M852.01 525.8v1.6M859.23 677.8v-1.6M859.23 525.8v1.6M865.7 677.8v-2.6M865.7 525.8v2.6M908.24 677.8v-1.6M908.24 525.8v1.6M933.12 677.8v-1.6M933.12 525.8v1.6M950.77 677.8v-1.6M950.77 525.8v1.6M964.46 677.8v-1.6M964.46 525.8v1.6M975.65 677.8v-1.6M975.65 525.8v1.6M985.11 677.8v-1.6M985.11 525.8v1.6M993.31 677.8v-1.6M993.31 525.8v1.6M1000.53 677.8v-1.6M1000.53 525.8v1.6" stroke="#6a6a6a" stroke-width="0.7" fill="none"/>
<text x="719.4" y="530.1" font-size="13.5" text-anchor="end">10<tspan dx="0.6" dy="-7.3" font-size="8.5">5</tspan></text>
<text x="719.4" y="682.1" font-size="13.5" text-anchor="end">10<tspan dx="0.6" dy="-7.3" font-size="8.5">0</tspan></text>
<text x="724.7" y="698.4" font-size="13.5" text-anchor="middle">10<tspan dx="0.6" dy="-7.3" font-size="8.5">0</tspan></text>
<text x="866" y="698.4" font-size="13.5" text-anchor="middle">10<tspan dx="0.6" dy="-7.3" font-size="8.5">1</tspan></text>
<text x="1007.3" y="698.4" font-size="13.5" text-anchor="middle">10<tspan dx="0.6" dy="-7.3" font-size="8.5">2</tspan></text>
<text x="863.9" y="715.3" font-size="14" text-anchor="middle" >area</text>
<circle cx="723.4" cy="538.2" r="4.1"/>
<circle cx="846.6" cy="591.7" r="4.1"/>
<circle cx="884.7" cy="626.7" r="4.1"/>
<circle cx="884.7" cy="629.8" r="4.1"/>
<circle cx="908.2" cy="668.1" r="4.1"/>
<path d="M718.75 538.2l4.65 -4.65l4.65 4.65l-4.65 4.65zM841.95 591.7l4.65 -4.65l4.65 4.65l-4.65 4.65zM880.05 626.7l4.65 -4.65l4.65 4.65l-4.65 4.65zM880.05 629.8l4.65 -4.65l4.65 4.65l-4.65 4.65zM903.55 668.1l4.65 -4.65l4.65 4.65l-4.65 4.65z" fill="#000"/>
</g>
</svg>
</body></html>
